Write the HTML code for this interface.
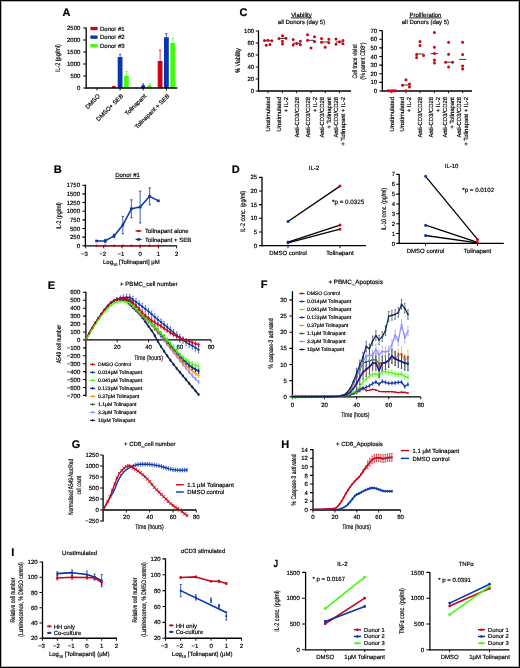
<!DOCTYPE html>
<html><head><meta charset="utf-8"><style>
html,body{margin:0;padding:0;background:#fff;width:520px;height:668px;overflow:hidden}
svg{display:block;will-change:transform;font-family:"Liberation Sans",sans-serif;font-size:6px}
text{stroke:#000;stroke-width:0.18px;text-rendering:geometricPrecision}
</style></head><body>
<svg width="520" height="668" viewBox="0 0 520 668">
<rect x="0" y="0" width="520" height="668" fill="#fff"/>
<text x="62.6" y="15.8" font-size="11" font-weight="bold">A</text>
<line x1="86.2" y1="27.4" x2="86.2" y2="88.6" stroke="#000" stroke-width="1.3" />
<path d="M83.2 88H86.2M83.2 76H86.2M83.2 64H86.2M83.2 52H86.2M83.2 40H86.2M83.2 28H86.2" fill="none" stroke="#000" stroke-width="1.1" />
<text x="80.4" y="90.1" text-anchor="end">0</text>
<text x="80.4" y="78.1" text-anchor="end">500</text>
<text x="80.4" y="66.1" text-anchor="end">1000</text>
<text x="80.4" y="54.1" text-anchor="end">1500</text>
<text x="80.4" y="42.1" text-anchor="end">2000</text>
<text x="80.4" y="30.1" text-anchor="end">2500</text>
<text transform="translate(59.9 58.2) rotate(-90)" font-size="6.6" text-anchor="middle" textLength="28.2" lengthAdjust="spacingAndGlyphs">IL-2 (pg/ml)</text>
<path d="M111.5,88 A2.3,2.2 0 0 1 116.1,88 Z" fill="#cc0418"/>
<line x1="120.1" y1="54.4" x2="120.1" y2="57.04" stroke="#0834ac" stroke-width="0.7" />
<line x1="119.1" y1="54.4" x2="121.1" y2="54.4" stroke="#0834ac" stroke-width="0.9" />
<rect x="117.7" y="57.04" width="4.8" height="30.96" fill="#0834ac"/>
<line x1="126.4" y1="71.44" x2="126.4" y2="75.76" stroke="#42fc0a" stroke-width="0.7" />
<line x1="125.4" y1="71.44" x2="127.4" y2="71.44" stroke="#42fc0a" stroke-width="0.9" />
<rect x="124" y="75.76" width="4.8" height="12.24" fill="#42fc0a"/>
<line x1="143.2" y1="83.92" x2="143.2" y2="84.64" stroke="#0834ac" stroke-width="0.7" />
<line x1="142.2" y1="83.92" x2="144.2" y2="83.92" stroke="#0834ac" stroke-width="0.9" />
<path d="M140.9,88 A2.3,3.36 0 0 1 145.5,88 Z" fill="#0834ac"/>
<line x1="149.5" y1="83.92" x2="149.5" y2="84.4" stroke="#42fc0a" stroke-width="0.7" />
<line x1="148.5" y1="83.92" x2="150.5" y2="83.92" stroke="#42fc0a" stroke-width="0.9" />
<path d="M147.2,88 A2.3,3.6 0 0 1 151.8,88 Z" fill="#42fc0a"/>
<line x1="160.1" y1="50.2" x2="160.1" y2="61" stroke="#cc0418" stroke-width="0.7" />
<line x1="159.1" y1="50.2" x2="161.1" y2="50.2" stroke="#cc0418" stroke-width="0.9" />
<rect x="157.7" y="61" width="4.8" height="27" fill="#cc0418"/>
<line x1="166.4" y1="33.64" x2="166.4" y2="37.24" stroke="#0834ac" stroke-width="0.7" />
<line x1="165.4" y1="33.64" x2="167.4" y2="33.64" stroke="#0834ac" stroke-width="0.9" />
<rect x="164" y="37.24" width="4.8" height="50.76" fill="#0834ac"/>
<line x1="172.7" y1="38.32" x2="172.7" y2="43" stroke="#42fc0a" stroke-width="0.7" />
<line x1="171.7" y1="38.32" x2="173.7" y2="38.32" stroke="#42fc0a" stroke-width="0.9" />
<rect x="170.3" y="43" width="4.8" height="45" fill="#42fc0a"/>
<line x1="85.6" y1="88" x2="177.4" y2="88" stroke="#000" stroke-width="1.3" />
<path d="M97 88V90.5M120.1 88V90.5M143.2 88V90.5M166.4 88V90.5" fill="none" stroke="#000" stroke-width="0.9" />
<rect x="90.4" y="26.9" width="7.2" height="3.3" fill="#cc0418"/>
<text x="100" y="30.6" >Donor #1</text>
<rect x="90.4" y="35.5" width="7.2" height="3.3" fill="#0834ac"/>
<text x="100" y="39.2" >Donor #2</text>
<rect x="90.4" y="44.1" width="7.2" height="3.3" fill="#42fc0a"/>
<text x="100" y="47.8" >Donor #3</text>
<text transform="translate(100.4 96.5) rotate(-45)" text-anchor="end">DMSO</text>
<text transform="translate(123.5 96.5) rotate(-45)" text-anchor="end">DMSO+ SEB</text>
<text transform="translate(146.6 96.5) rotate(-45)" text-anchor="end">Tolinapant</text>
<text transform="translate(169.8 96.5) rotate(-45)" text-anchor="end">Tolinapant + SEB</text>
<text x="53.8" y="173" font-size="11" font-weight="bold">B</text>
<text x="127.5" y="177" text-anchor="middle" text-decoration="underline">Donor #1</text>
<line x1="85.4" y1="184.7" x2="85.4" y2="246.4" stroke="#000" stroke-width="1.3" />
<path d="M82.4 245.8H85.4M82.4 237.15H85.4M82.4 228.5H85.4M82.4 219.85H85.4M82.4 211.2H85.4M82.4 202.55H85.4M82.4 193.9H85.4M82.4 185.25H85.4" fill="none" stroke="#000" stroke-width="1.1" />
<text x="80" y="247.9" text-anchor="end">0</text>
<text x="80" y="239.25" text-anchor="end">250</text>
<text x="80" y="230.6" text-anchor="end">500</text>
<text x="80" y="221.95" text-anchor="end">750</text>
<text x="80" y="213.3" text-anchor="end">1000</text>
<text x="80" y="204.65" text-anchor="end">1250</text>
<text x="80" y="196" text-anchor="end">1500</text>
<text x="80" y="187.35" text-anchor="end">1750</text>
<line x1="84.8" y1="245.8" x2="176.9" y2="245.8" stroke="#000" stroke-width="1.3" />
<path d="M85.4 245.8V248.3M103.65 245.8V248.3M121.9 245.8V248.3M140.15 245.8V248.3M158.4 245.8V248.3M176.65 245.8V248.3" fill="none" stroke="#000" stroke-width="0.9" />
<text x="84.4" y="255.6" text-anchor="middle">−3</text>
<text x="102.65" y="255.6" text-anchor="middle">−2</text>
<text x="120.9" y="255.6" text-anchor="middle">−1</text>
<text x="140.15" y="255.6" text-anchor="middle">0</text>
<text x="158.4" y="255.6" text-anchor="middle">1</text>
<text x="176.65" y="255.6" text-anchor="middle">2</text>
<text x="103" y="264.4" >Log<tspan font-size="3.8" dy="1.2">10</tspan><tspan dy="-1.2"> [Tolinapant] µM</tspan></text>
<text transform="translate(60.6 216) rotate(-90)" font-size="6.6" text-anchor="middle" textLength="27.2" lengthAdjust="spacingAndGlyphs">IL-2 (pg/ml)</text>
<polyline points="96.53,245.8 105.29,245.8 114.05,245.8 122.81,245.8 131.39,245.8 140.15,245.8 149.64,245.8 158.4,245.8" fill="none" stroke="#cc0418" stroke-width="1.1" stroke-linejoin="round" stroke-linecap="round" />
<path d="M96.53 245.8h0M105.29 245.8h0M114.05 245.8h0M122.81 245.8h0M131.39 245.8h0M140.15 245.8h0M149.64 245.8h0M158.4 245.8h0" stroke="#cc0418" stroke-width="2.6" stroke-linecap="round" fill="none"/>
<path d="M105.29 242.69V239.23M104.09 242.69h2.4M104.09 239.23h2.4M114.05 237.67V234.21M112.85 237.67h2.4M112.85 234.21h2.4M122.81 233.69V216.39M121.61 233.69h2.4M121.61 216.39h2.4M131.39 217.77V199.78M130.19 217.77h2.4M130.19 199.78h2.4M140.15 222.96V191.13M138.95 222.96h2.4M138.95 191.13h2.4M149.64 204.8V187.85M148.44 204.8h2.4M148.44 187.85h2.4" fill="none" stroke="#0834ac" stroke-width="0.8" />
<polyline points="96.53,240.96 105.29,240.96 114.05,235.94 122.81,225.04 131.39,208.78 140.15,207.05 149.64,196.32 158.4,200.82" fill="none" stroke="#0834ac" stroke-width="1.5" stroke-linejoin="round" stroke-linecap="round" />
<rect x="95.23" y="239.66" width="2.6" height="2.6" fill="#0834ac"/>
<rect x="103.99" y="239.66" width="2.6" height="2.6" fill="#0834ac"/>
<rect x="112.75" y="234.64" width="2.6" height="2.6" fill="#0834ac"/>
<rect x="121.51" y="223.74" width="2.6" height="2.6" fill="#0834ac"/>
<rect x="130.09" y="207.48" width="2.6" height="2.6" fill="#0834ac"/>
<rect x="138.85" y="205.75" width="2.6" height="2.6" fill="#0834ac"/>
<rect x="148.34" y="195.02" width="2.6" height="2.6" fill="#0834ac"/>
<rect x="157.1" y="199.52" width="2.6" height="2.6" fill="#0834ac"/>
<line x1="135.6" y1="231" x2="141.6" y2="231" stroke="#cc0418" stroke-width="1.3" />
<circle cx="138.6" cy="231" r="1.2" fill="#cc0418"/>
<text x="145" y="233.4" >Tolinapant alone</text>
<line x1="135.6" y1="239.4" x2="141.6" y2="239.4" stroke="#0834ac" stroke-width="1.3" />
<rect x="137.3" y="238.1" width="2.6" height="2.6" fill="#0834ac"/>
<text x="145" y="241.8" >Tolinapant + SEB</text>
<text x="239.6" y="16" font-size="11" font-weight="bold">C</text>
<text x="301.5" y="16.6" text-anchor="middle" text-decoration="underline">Viability</text>
<text x="301.5" y="24.4" text-anchor="middle">all Donors (day 5)</text>
<line x1="258.5" y1="30.6" x2="258.5" y2="91.6" stroke="#000" stroke-width="1.3" />
<path d="M255.7 91H258.5M255.7 79H258.5M255.7 67H258.5M255.7 55H258.5M255.7 43H258.5M255.7 31H258.5" fill="none" stroke="#000" stroke-width="1.1" />
<text x="254.1" y="93.1" text-anchor="end">0</text>
<text x="254.1" y="81.1" text-anchor="end">20</text>
<text x="254.1" y="69.1" text-anchor="end">40</text>
<text x="254.1" y="57.1" text-anchor="end">60</text>
<text x="254.1" y="45.1" text-anchor="end">80</text>
<text x="254.1" y="33.1" text-anchor="end">100</text>
<text transform="translate(239.8 60.5) rotate(-90)" font-size="6.6" text-anchor="middle" textLength="24.5" lengthAdjust="spacingAndGlyphs">% Viability</text>
<line x1="258" y1="91" x2="351" y2="91" stroke="#000" stroke-width="1.3" />
<path d="M268 91V93.2M282.3 91V93.2M296.6 91V93.2M310.9 91V93.2M325.2 91V93.2M339.5 91V93.2" fill="none" stroke="#000" stroke-width="0.9" />
<line x1="264.4" y1="40.7" x2="271.6" y2="40.7" stroke="#222" stroke-width="0.9" />
<path d="M264.5 40.5h0M268 40.3h0M271.8 40.7h0M266.3 45.3h0M270 44.5h0" stroke="#cc0418" stroke-width="3" stroke-linecap="round" fill="none"/>
<line x1="278.7" y1="38.5" x2="285.9" y2="38.5" stroke="#222" stroke-width="0.9" />
<path d="M279 38.5h0M282.5 35.8h0M286 38.3h0M282.5 41.2h0M282.5 44h0" stroke="#cc0418" stroke-width="3" stroke-linecap="round" fill="none"/>
<line x1="293" y1="43.3" x2="300.2" y2="43.3" stroke="#222" stroke-width="0.9" />
<path d="M293.2 39.5h0M293.2 45h0M296.8 43.5h0M300.3 41.2h0M300.3 44.7h0" stroke="#cc0418" stroke-width="3" stroke-linecap="round" fill="none"/>
<line x1="307.3" y1="40.3" x2="314.5" y2="40.3" stroke="#222" stroke-width="0.9" />
<path d="M307.5 34.8h0M307.5 40.3h0M311 48h0M314.5 36.8h0M314.5 41.5h0" stroke="#cc0418" stroke-width="3" stroke-linecap="round" fill="none"/>
<line x1="321.6" y1="42" x2="328.8" y2="42" stroke="#222" stroke-width="0.9" />
<path d="M321.5 38.5h0M321.5 42.2h0M325.2 47.3h0M328.8 39.2h0M328.8 42.7h0" stroke="#cc0418" stroke-width="3" stroke-linecap="round" fill="none"/>
<line x1="335.9" y1="42" x2="343.1" y2="42" stroke="#222" stroke-width="0.9" />
<path d="M336 39h0M336 44.3h0M339.5 41.8h0M343 40.5h0M343 43.8h0" stroke="#cc0418" stroke-width="3" stroke-linecap="round" fill="none"/>
<text x="425.4" y="16.6" text-anchor="middle" text-decoration="underline">Proliferation</text>
<text x="425.4" y="24.2" text-anchor="middle">all Donors (day 5)</text>
<line x1="382.3" y1="30.4" x2="382.3" y2="91.6" stroke="#000" stroke-width="1.3" />
<path d="M379.3 91H382.3M379.3 82.37H382.3M379.3 73.74H382.3M379.3 65.11H382.3M379.3 56.48H382.3M379.3 47.85H382.3M379.3 39.22H382.3M379.3 30.59H382.3" fill="none" stroke="#000" stroke-width="1.1" />
<text x="377.1" y="93.1" text-anchor="end">0</text>
<text x="377.1" y="84.47" text-anchor="end">10</text>
<text x="377.1" y="75.84" text-anchor="end">20</text>
<text x="377.1" y="67.21" text-anchor="end">30</text>
<text x="377.1" y="58.58" text-anchor="end">40</text>
<text x="377.1" y="49.95" text-anchor="end">50</text>
<text x="377.1" y="41.32" text-anchor="end">60</text>
<text x="377.1" y="32.69" text-anchor="end">70</text>
<text transform="translate(356.7 61.4) rotate(-90)" font-size="6.6" text-anchor="middle" textLength="34" lengthAdjust="spacingAndGlyphs">Cell trace violet</text>
<text transform="translate(365 61) rotate(-90)" font-size="6.6" text-anchor="middle" textLength="37" lengthAdjust="spacingAndGlyphs">(% parent CD8<tspan font-size="3.8" dy="-2">+</tspan><tspan dy="2">)</tspan></text>
<line x1="381.8" y1="91" x2="472" y2="91" stroke="#000" stroke-width="1.3" />
<path d="M391.6 91V93.2M405.8 91V93.2M420 91V93.2M434.3 91V93.2M448.5 91V93.2M462.7 91V93.2" fill="none" stroke="#000" stroke-width="0.9" />
<line x1="388" y1="91" x2="395.2" y2="91" stroke="#222" stroke-width="0.9" />
<path d="M388.2 90.8h0M390.2 90.8h0M392.2 90.8h0M394 90.8h0M395.6 90.8h0" stroke="#cc0418" stroke-width="3" stroke-linecap="round" fill="none"/>
<line x1="402.2" y1="85" x2="409.4" y2="85" stroke="#222" stroke-width="0.9" />
<path d="M406 79.8h0M402.5 85.3h0M409.5 84h0M409.5 87h0M406 90.8h0" stroke="#cc0418" stroke-width="3" stroke-linecap="round" fill="none"/>
<line x1="416.4" y1="54" x2="423.6" y2="54" stroke="#222" stroke-width="0.9" />
<path d="M420 41.6h0M420 45.6h0M416.6 54.6h0M416.6 57.6h0M423.6 55.6h0" stroke="#cc0418" stroke-width="3" stroke-linecap="round" fill="none"/>
<line x1="430.7" y1="53.6" x2="437.9" y2="53.6" stroke="#222" stroke-width="0.9" />
<path d="M434.4 32.6h0M434.4 47.2h0M434.4 53.6h0M434.4 60h0M434.4 63h0" stroke="#cc0418" stroke-width="3" stroke-linecap="round" fill="none"/>
<line x1="444.9" y1="62.2" x2="452.1" y2="62.2" stroke="#222" stroke-width="0.9" />
<path d="M448.6 42.2h0M448.6 54.2h0M445.6 62.2h0M452.6 62.2h0M448.6 67h0" stroke="#cc0418" stroke-width="3" stroke-linecap="round" fill="none"/>
<line x1="459.1" y1="59.4" x2="466.3" y2="59.4" stroke="#222" stroke-width="0.9" />
<path d="M462.6 42.2h0M462.6 54.6h0M462.6 66h0M462.6 69h0M462.6 69h0" stroke="#cc0418" stroke-width="3" stroke-linecap="round" fill="none"/>
<text transform="translate(270.1 97) rotate(-90)" font-size="5.9" text-anchor="end">Unstimulated</text>
<text transform="translate(280.9 97) rotate(-90)" font-size="5.9" text-anchor="end">Unstimulated</text>
<text transform="translate(287.9 97) rotate(-90)" font-size="5.9" text-anchor="end">+ IL-2</text>
<text transform="translate(298.7 97) rotate(-90)" font-size="5.9" text-anchor="end">Anti-CD3/CD28</text>
<text transform="translate(309.5 97) rotate(-90)" font-size="5.9" text-anchor="end">Anti-CD3/CD28</text>
<text transform="translate(316.5 97) rotate(-90)" font-size="5.9" text-anchor="end">+ IL-2</text>
<text transform="translate(323.8 97) rotate(-90)" font-size="5.9" text-anchor="end">Anti-CD3/CD28</text>
<text transform="translate(330.8 97) rotate(-90)" font-size="5.9" text-anchor="end">+ Tolinapant</text>
<text transform="translate(338.1 97) rotate(-90)" font-size="5.9" text-anchor="end">Anti-CD3/CD28</text>
<text transform="translate(345.1 97) rotate(-90)" font-size="5.9" text-anchor="end">+ Tolinapant + IL-2</text>
<text transform="translate(393.7 97) rotate(-90)" font-size="5.9" text-anchor="end">Unstimulated</text>
<text transform="translate(404.4 97) rotate(-90)" font-size="5.9" text-anchor="end">Unstimulated</text>
<text transform="translate(411.4 97) rotate(-90)" font-size="5.9" text-anchor="end">+ IL-2</text>
<text transform="translate(422.1 97) rotate(-90)" font-size="5.9" text-anchor="end">Anti-CD3/CD28</text>
<text transform="translate(432.9 97) rotate(-90)" font-size="5.9" text-anchor="end">Anti-CD3/CD28</text>
<text transform="translate(439.9 97) rotate(-90)" font-size="5.9" text-anchor="end">+ IL-2</text>
<text transform="translate(447.1 97) rotate(-90)" font-size="5.9" text-anchor="end">Anti-CD3/CD28</text>
<text transform="translate(454.1 97) rotate(-90)" font-size="5.9" text-anchor="end">+ Tolinapant</text>
<text transform="translate(461.3 97) rotate(-90)" font-size="5.9" text-anchor="end">Anti-CD3/CD28</text>
<text transform="translate(468.3 97) rotate(-90)" font-size="5.9" text-anchor="end">+ Tolinapant + IL-2</text>
<text x="231.8" y="173" font-size="11" font-weight="bold">D</text>
<text x="314" y="170.4" text-anchor="middle">IL-2</text>
<line x1="262" y1="177" x2="262" y2="246.2" stroke="#000" stroke-width="1.3" />
<path d="M259 245.6H262M259 231.95H262M259 218.3H262M259 204.65H262M259 191H262M259 177.35H262" fill="none" stroke="#000" stroke-width="1.1" />
<text x="257.2" y="247.7" text-anchor="end">0</text>
<text x="257.2" y="234.05" text-anchor="end">5</text>
<text x="257.2" y="220.4" text-anchor="end">10</text>
<text x="257.2" y="206.75" text-anchor="end">15</text>
<text x="257.2" y="193.1" text-anchor="end">20</text>
<text x="257.2" y="179.45" text-anchor="end">25</text>
<line x1="261.4" y1="245.6" x2="366" y2="245.6" stroke="#000" stroke-width="1.3" />
<path d="M288 245.6V248.1M340 245.6V248.1" fill="none" stroke="#000" stroke-width="0.9" />
<text x="288" y="255" text-anchor="middle">DMSO control</text>
<text x="340" y="255" text-anchor="middle">Tolinapant</text>
<text x="332" y="204" font-size="6.25">*p = 0.0325</text>
<text transform="translate(244.9 211.5) rotate(-90)" font-size="6.6" text-anchor="middle" textLength="41.5" lengthAdjust="spacingAndGlyphs">IL-2 conc. (pg/ml)</text>
<line x1="288" y1="221.58" x2="340" y2="186.09" stroke="#000" stroke-width="1.3" />
<line x1="288" y1="242.05" x2="340" y2="225.12" stroke="#000" stroke-width="1.3" />
<line x1="288" y1="242.87" x2="340" y2="229.22" stroke="#000" stroke-width="1.3" />
<path d="M288 221.58h0M288 242.05h0M288 242.87h0" stroke="#0834ac" stroke-width="3" stroke-linecap="round" fill="none"/>
<path d="M340 186.09h0M340 225.12h0M340 229.22h0" stroke="#cc0418" stroke-width="3" stroke-linecap="round" fill="none"/>
<text x="451.6" y="168" text-anchor="middle">IL-10</text>
<line x1="399.2" y1="174" x2="399.2" y2="244" stroke="#000" stroke-width="1.3" />
<path d="M396.2 243.4H399.2M396.2 233.54H399.2M396.2 223.68H399.2M396.2 213.82H399.2M396.2 203.96H399.2M396.2 194.1H399.2M396.2 184.24H399.2M396.2 174.38H399.2" fill="none" stroke="#000" stroke-width="1.1" />
<text x="395" y="245.5" text-anchor="end">0</text>
<text x="395" y="235.64" text-anchor="end">1</text>
<text x="395" y="225.78" text-anchor="end">2</text>
<text x="395" y="215.92" text-anchor="end">3</text>
<text x="395" y="206.06" text-anchor="end">4</text>
<text x="395" y="196.2" text-anchor="end">5</text>
<text x="395" y="186.34" text-anchor="end">6</text>
<text x="395" y="176.48" text-anchor="end">7</text>
<line x1="398.6" y1="243.4" x2="503.8" y2="243.4" stroke="#000" stroke-width="1.3" />
<path d="M425.6 243.4V245.9M477.5 243.4V245.9" fill="none" stroke="#000" stroke-width="0.9" />
<text x="425.6" y="253" text-anchor="middle">DMSO control</text>
<text x="477.5" y="253" text-anchor="middle">Tolinapant</text>
<text x="462.3" y="192" font-size="6.2">*p = 0.0102</text>
<text transform="translate(386.2 209.2) rotate(-90)" font-size="6.6" text-anchor="middle" textLength="42.5" lengthAdjust="spacingAndGlyphs">IL-10 conc. (pg/ml)</text>
<line x1="425.6" y1="176.35" x2="477.5" y2="239.46" stroke="#000" stroke-width="1.3" />
<line x1="425.6" y1="225.16" x2="477.5" y2="242.41" stroke="#000" stroke-width="1.3" />
<line x1="425.6" y1="235.51" x2="477.5" y2="242.91" stroke="#000" stroke-width="1.3" />
<path d="M425.6 176.35h0M425.6 225.16h0M425.6 235.51h0" stroke="#0834ac" stroke-width="3" stroke-linecap="round" fill="none"/>
<path d="M477.5 239.46h0M477.5 242.41h0" stroke="#cc0418" stroke-width="3" stroke-linecap="round" fill="none"/>
<text x="47.8" y="289" font-size="11" font-weight="bold">E</text>
<text x="120" y="286.1" font-size="6.1">+ PBMC_cell number</text>
<text transform="translate(60.9 344) rotate(-90)" font-size="6.6" text-anchor="middle" textLength="38.5" lengthAdjust="spacingAndGlyphs">A549 cell number</text>
<line x1="85.9" y1="291.7" x2="85.9" y2="396.5" stroke="#000" stroke-width="1.3" />
<path d="M83.1 395.41H85.9M83.1 387.48H85.9M83.1 379.55H85.9M83.1 371.62H85.9M83.1 363.69H85.9M83.1 355.76H85.9M83.1 347.83H85.9M83.1 339.9H85.9M83.1 331.97H85.9M83.1 324.04H85.9M83.1 316.11H85.9M83.1 308.18H85.9M83.1 300.25H85.9M83.1 292.32H85.9" fill="none" stroke="#000" stroke-width="1.1" />
<text x="80.3" y="397.51" text-anchor="end">−700</text>
<text x="80.3" y="389.58" text-anchor="end">−600</text>
<text x="80.3" y="381.65" text-anchor="end">−500</text>
<text x="80.3" y="373.72" text-anchor="end">−400</text>
<text x="80.3" y="365.79" text-anchor="end">−300</text>
<text x="80.3" y="357.86" text-anchor="end">−200</text>
<text x="80.3" y="349.93" text-anchor="end">−100</text>
<text x="80.3" y="342" text-anchor="end">0</text>
<text x="80.3" y="334.07" text-anchor="end">100</text>
<text x="80.3" y="326.14" text-anchor="end">200</text>
<text x="80.3" y="318.21" text-anchor="end">300</text>
<text x="80.3" y="310.28" text-anchor="end">400</text>
<text x="80.3" y="302.35" text-anchor="end">500</text>
<text x="80.3" y="294.42" text-anchor="end">600</text>
<line x1="85.3" y1="339.9" x2="211" y2="339.9" stroke="#000" stroke-width="1.3" />
<path d="M117.2 339.9V342.4M148.5 339.9V342.4M179.8 339.9V342.4M211.1 339.9V342.4" fill="none" stroke="#000" stroke-width="0.9" />
<text x="117.2" y="349.2" text-anchor="middle">20</text>
<text x="148.5" y="349.2" text-anchor="middle">40</text>
<text x="179.8" y="349.2" text-anchor="middle">60</text>
<text x="211.1" y="349.2" text-anchor="middle">80</text>
<path d="M120.33 298.98V300.25M119.63 298.98h1.4M119.63 300.25h1.4M123.46 299.46V301.04M122.76 299.46h1.4M122.76 301.04h1.4M126.59 300.72V302.62M125.89 300.72h1.4M125.89 302.62h1.4M129.72 303.43V305.33M129.02 303.43h1.4M129.02 305.33h1.4M132.85 306.68V308.58M132.15 306.68h1.4M132.15 308.58h1.4M135.98 309.72V311.62M135.28 309.72h1.4M135.28 311.62h1.4M139.11 312.89V314.79M138.41 312.89h1.4M138.41 314.79h1.4M142.24 316.66V318.57M141.54 316.66h1.4M141.54 318.57h1.4M145.37 320.84V322.75M144.67 320.84h1.4M144.67 322.75h1.4M148.5 325.31V327.21M147.8 325.31h1.4M147.8 327.21h1.4M151.63 329.64V331.54M150.93 329.64h1.4M150.93 331.54h1.4M154.76 334.7V336.6M154.06 334.7h1.4M154.06 336.6h1.4M157.89 340.37V342.27M157.19 340.37h1.4M157.19 342.27h1.4M161.02 345.64V347.54M160.32 345.64h1.4M160.32 347.54h1.4M164.15 350.33V352.23M163.45 350.33h1.4M163.45 352.23h1.4M167.28 354.87V356.77M166.58 354.87h1.4M166.58 356.77h1.4M170.41 359.29V361.2M169.71 359.29h1.4M169.71 361.2h1.4M173.54 363.44V365.34M172.84 363.44h1.4M172.84 365.34h1.4M176.67 367.37V369.28M175.97 367.37h1.4M175.97 369.28h1.4M179.8 371.18V373.09M179.1 371.18h1.4M179.1 373.09h1.4M182.93 374.96V376.86M182.23 374.96h1.4M182.23 376.86h1.4M186.06 378.74V380.65M185.36 378.74h1.4M185.36 380.65h1.4M189.19 382.45V384.35M188.49 382.45h1.4M188.49 384.35h1.4M192.32 386.13V388.04M191.62 386.13h1.4M191.62 388.04h1.4M195.45 389.89V391.79M194.75 389.89h1.4M194.75 391.79h1.4M198.58 393.67V395.57M197.88 393.67h1.4M197.88 395.57h1.4" fill="none" stroke="#0f2350" stroke-width="0.6" />
<polyline points="85.9,339.9 86.68,338.36 87.47,336.8 88.25,335.23 89.03,333.69 89.81,332.2 90.59,330.78 91.38,329.42 92.16,328.09 92.94,326.78 93.73,325.5 94.51,324.25 95.29,323.02 96.07,321.81 96.86,320.63 97.64,319.47 98.42,318.33 99.2,317.22 99.98,316.12 100.77,315.04 101.55,313.98 102.33,312.93 103.12,311.9 103.9,310.88 104.68,309.86 105.46,308.84 106.25,307.83 107.03,306.85 107.81,305.91 108.59,305.01 109.38,304.19 110.16,303.44 110.94,302.76 111.72,302.16 112.51,301.61 113.29,301.13 114.07,300.71 114.85,300.34 115.64,300.01 116.42,299.77 117.2,299.63 117.98,299.57 118.77,299.56 119.55,299.59 120.33,299.62 121.11,299.67 121.9,299.8 122.68,299.99 123.46,300.25 124.24,300.54 125.03,300.85 125.81,301.22 126.59,301.67 127.37,302.23 128.16,302.9 128.94,303.62 129.72,304.38 130.5,305.18 131.28,305.99 132.07,306.81 132.85,307.63 133.63,308.42 134.42,309.19 135.2,309.94 135.98,310.67 136.76,311.42 137.55,312.18 138.33,312.99 139.11,313.84 139.89,314.74 140.68,315.67 141.46,316.63 142.24,317.61 143.02,318.62 143.81,319.65 144.59,320.7 145.37,321.79 146.15,322.9 146.94,324.03 147.72,325.15 148.5,326.26 149.28,327.35 150.06,328.42 150.85,329.49 151.63,330.59 152.41,331.72 153.19,332.92 153.98,334.23 154.76,335.65 155.54,337.11 156.32,338.55 157.11,339.94 157.89,341.32 158.67,342.7 159.45,344.04 160.24,345.34 161.02,346.59 161.8,347.79 162.59,348.97 163.37,350.13 164.15,351.28 164.93,352.42 165.72,353.55 166.5,354.69 167.28,355.82 168.06,356.94 168.84,358.06 169.63,359.16 170.41,360.24 171.19,361.31 171.98,362.36 172.76,363.38 173.54,364.39 174.32,365.38 175.11,366.37 175.89,367.35 176.67,368.33 177.45,369.29 178.24,370.25 179.02,371.19 179.8,372.13 180.58,373.08 181.37,374.02 182.15,374.96 182.93,375.91 183.71,376.86 184.5,377.81 185.28,378.75 186.06,379.7 186.84,380.63 187.62,381.56 188.41,382.48 189.19,383.4 189.97,384.32 190.75,385.23 191.54,386.16 192.32,387.08 193.1,388.02 193.88,388.96 194.67,389.9 195.45,390.84 196.23,391.79 197.01,392.73 197.8,393.67 198.58,394.62" fill="none" stroke="#0f2350" stroke-width="1.45" stroke-linejoin="round" stroke-linecap="round" />
<path d="M85.9 339.9h0M89.03 333.69h0M92.16 328.09h0M95.29 323.02h0M98.42 318.33h0M101.55 313.98h0M104.68 309.86h0M107.81 305.91h0M110.94 302.76h0M114.07 300.71h0M117.2 299.63h0M120.33 299.62h0M123.46 300.25h0M126.59 301.67h0M129.72 304.38h0M132.85 307.63h0M135.98 310.67h0M139.11 313.84h0M142.24 317.61h0M145.37 321.79h0M148.5 326.26h0M151.63 330.59h0M154.76 335.65h0M157.89 341.32h0M161.02 346.59h0M164.15 351.28h0M167.28 355.82h0M170.41 360.24h0M173.54 364.39h0M176.67 368.33h0M179.8 372.13h0M182.93 375.91h0M186.06 379.7h0M189.19 383.4h0M192.32 387.08h0M195.45 390.84h0M198.58 394.62h0" stroke="#0f2350" stroke-width="2.3" stroke-linecap="round" fill="none"/>
<path d="M117.2 298.86V300.44M116.5 298.86h1.4M116.5 300.44h1.4M120.33 298.56V300.67M119.63 298.56h1.4M119.63 300.67h1.4M123.46 298.25V300.9M122.76 298.25h1.4M122.76 300.9h1.4M126.59 298.84V302.01M125.89 298.84h1.4M125.89 302.01h1.4M129.72 300.67V303.84M129.02 300.67h1.4M129.02 303.84h1.4M132.85 304.02V307.19M132.15 304.02h1.4M132.15 307.19h1.4M135.98 307.78V310.95M135.28 307.78h1.4M135.28 310.95h1.4M139.11 311.29V314.46M138.41 311.29h1.4M138.41 314.46h1.4M142.24 314.45V317.62M141.54 314.45h1.4M141.54 317.62h1.4M145.37 317.37V320.54M144.67 317.37h1.4M144.67 320.54h1.4M148.5 320.11V323.28M147.8 320.11h1.4M147.8 323.28h1.4M151.63 323.48V326.65M150.93 323.48h1.4M150.93 326.65h1.4M154.76 327.43V330.6M154.06 327.43h1.4M154.06 330.6h1.4M157.89 331.16V334.33M157.19 331.16h1.4M157.19 334.33h1.4M161.02 334.93V338.1M160.32 334.93h1.4M160.32 338.1h1.4M164.15 338.89V342.07M163.45 338.89h1.4M163.45 342.07h1.4M167.28 342.87V346.05M166.58 342.87h1.4M166.58 346.05h1.4M170.41 346.84V350.01M169.71 346.84h1.4M169.71 350.01h1.4M173.54 350.79V353.96M172.84 350.79h1.4M172.84 353.96h1.4M176.67 354.77V357.94M175.97 354.77h1.4M175.97 357.94h1.4M179.8 358.9V362.07M179.1 358.9h1.4M179.1 362.07h1.4M182.93 362.84V366.02M182.23 362.84h1.4M182.23 366.02h1.4M186.06 366.54V369.72M185.36 366.54h1.4M185.36 369.72h1.4M189.19 370.32V373.49M188.49 370.32h1.4M188.49 373.49h1.4M192.32 374V377.17M191.62 374h1.4M191.62 377.17h1.4M195.45 377.24V380.41M194.75 377.24h1.4M194.75 380.41h1.4M198.58 380.34V383.51M197.88 380.34h1.4M197.88 383.51h1.4" fill="none" stroke="#8c8cff" stroke-width="0.6" />
<polyline points="85.9,339.9 86.68,338.36 87.47,336.8 88.25,335.23 89.03,333.69 89.81,332.2 90.59,330.78 91.38,329.42 92.16,328.09 92.94,326.78 93.73,325.5 94.51,324.25 95.29,323.02 96.07,321.81 96.86,320.63 97.64,319.47 98.42,318.33 99.2,317.22 99.98,316.12 100.77,315.04 101.55,313.98 102.33,312.93 103.12,311.9 103.9,310.88 104.68,309.86 105.46,308.84 106.25,307.83 107.03,306.85 107.81,305.91 108.59,305.01 109.38,304.19 110.16,303.44 110.94,302.76 111.72,302.16 112.51,301.61 113.29,301.13 114.07,300.71 114.85,300.34 115.64,300.01 116.42,299.78 117.2,299.65 117.98,299.6 118.77,299.6 119.55,299.61 120.33,299.62 121.11,299.59 121.9,299.56 122.68,299.55 123.46,299.57 124.24,299.67 125.03,299.85 125.81,300.12 126.59,300.43 127.37,300.79 128.16,301.21 128.94,301.7 129.72,302.26 130.5,302.9 131.28,303.7 132.07,304.62 132.85,305.61 133.63,306.6 134.42,307.55 135.2,308.45 135.98,309.36 136.76,310.27 137.55,311.17 138.33,312.04 139.11,312.87 139.89,313.69 140.68,314.49 141.46,315.27 142.24,316.03 143.02,316.79 143.81,317.54 144.59,318.26 145.37,318.95 146.15,319.63 146.94,320.3 147.72,320.98 148.5,321.7 149.28,322.45 150.06,323.26 150.85,324.13 151.63,325.07 152.41,326.04 153.19,327.04 153.98,328.03 154.76,329.02 155.54,329.97 156.32,330.9 157.11,331.83 157.89,332.75 158.67,333.67 159.45,334.61 160.24,335.55 161.02,336.52 161.8,337.49 162.59,338.48 163.37,339.48 164.15,340.48 164.93,341.48 165.72,342.48 166.5,343.47 167.28,344.46 168.06,345.45 168.84,346.44 169.63,347.43 170.41,348.42 171.19,349.42 171.98,350.41 172.76,351.39 173.54,352.38 174.32,353.37 175.11,354.36 175.89,355.35 176.67,356.36 177.45,357.38 178.24,358.41 179.02,359.45 179.8,360.48 180.58,361.5 181.37,362.5 182.15,363.48 182.93,364.43 183.71,365.37 184.5,366.29 185.28,367.21 186.06,368.13 186.84,369.05 187.62,369.99 188.41,370.95 189.19,371.9 189.97,372.86 190.75,373.79 191.54,374.71 192.32,375.58 193.1,376.43 193.88,377.24 194.67,378.04 195.45,378.82 196.23,379.6 197.01,380.37 197.8,381.14 198.58,381.93" fill="none" stroke="#8c8cff" stroke-width="1.2" stroke-linejoin="round" stroke-linecap="round" />
<path d="M85.9 339.9h0M89.03 333.69h0M92.16 328.09h0M95.29 323.02h0M98.42 318.33h0M101.55 313.98h0M104.68 309.86h0M107.81 305.91h0M110.94 302.76h0M114.07 300.71h0M117.2 299.65h0M120.33 299.62h0M123.46 299.57h0M126.59 300.43h0M129.72 302.26h0M132.85 305.61h0M135.98 309.36h0M139.11 312.87h0M142.24 316.03h0M145.37 318.95h0M148.5 321.7h0M151.63 325.07h0M154.76 329.02h0M157.89 332.75h0M161.02 336.52h0M164.15 340.48h0M167.28 344.46h0M170.41 348.42h0M173.54 352.38h0M176.67 356.36h0M179.8 360.48h0M182.93 364.43h0M186.06 368.13h0M189.19 371.9h0M192.32 375.58h0M195.45 378.82h0M198.58 381.93h0" stroke="#8c8cff" stroke-width="1.9" stroke-linecap="round" fill="none"/>
<path d="M114.07 300.06V301.38M113.37 300.06h1.4M113.37 301.38h1.4M117.2 298.61V300.6M116.5 298.61h1.4M116.5 300.6h1.4M120.33 298.14V300.78M119.63 298.14h1.4M119.63 300.78h1.4M123.46 297.71V301.02M122.76 297.71h1.4M122.76 301.02h1.4M126.59 298.17V302.13M125.89 298.17h1.4M125.89 302.13h1.4M129.72 299.9V303.86M129.02 299.9h1.4M129.02 303.86h1.4M132.85 303.08V307.04M132.15 303.08h1.4M132.15 307.04h1.4M135.98 306.68V310.65M135.28 306.68h1.4M135.28 310.65h1.4M139.11 310.09V314.05M138.41 310.09h1.4M138.41 314.05h1.4M142.24 313.16V317.12M141.54 313.16h1.4M141.54 317.12h1.4M145.37 315.95V319.91M144.67 315.95h1.4M144.67 319.91h1.4M148.5 318.52V322.49M147.8 318.52h1.4M147.8 322.49h1.4M151.63 321.71V325.68M150.93 321.71h1.4M150.93 325.68h1.4M154.76 325.47V329.44M154.06 325.47h1.4M154.06 329.44h1.4M157.89 329.1V333.07M157.19 329.1h1.4M157.19 333.07h1.4M161.02 332.65V336.61M160.32 332.65h1.4M160.32 336.61h1.4M164.15 336.01V339.98M163.45 336.01h1.4M163.45 339.98h1.4M167.28 339.56V343.52M166.58 339.56h1.4M166.58 343.52h1.4M170.41 343.32V347.29M169.71 343.32h1.4M169.71 347.29h1.4M173.54 347.06V351.02M172.84 347.06h1.4M172.84 351.02h1.4M176.67 350.79V354.76M175.97 350.79h1.4M175.97 354.76h1.4M179.8 354.65V358.61M179.1 354.65h1.4M179.1 358.61h1.4M182.93 358.06V362.03M182.23 358.06h1.4M182.23 362.03h1.4M186.06 360.91V364.87M185.36 360.91h1.4M185.36 364.87h1.4M189.19 363.52V367.48M188.49 363.52h1.4M188.49 367.48h1.4M192.32 365.83V369.8M191.62 365.83h1.4M191.62 369.8h1.4M195.45 367.72V371.69M194.75 367.72h1.4M194.75 371.69h1.4M198.58 369.48V373.44M197.88 369.48h1.4M197.88 373.44h1.4" fill="none" stroke="#1a7a1a" stroke-width="0.6" />
<polyline points="85.9,339.9 86.68,338.36 87.47,336.8 88.25,335.23 89.03,333.69 89.81,332.2 90.59,330.78 91.38,329.42 92.16,328.09 92.94,326.78 93.73,325.5 94.51,324.25 95.29,323.02 96.07,321.81 96.86,320.63 97.64,319.47 98.42,318.33 99.2,317.22 99.98,316.12 100.77,315.04 101.55,313.98 102.33,312.93 103.12,311.9 103.9,310.88 104.68,309.86 105.46,308.84 106.25,307.83 107.03,306.85 107.81,305.91 108.59,305.01 109.38,304.19 110.16,303.44 110.94,302.76 111.72,302.16 112.51,301.62 113.29,301.15 114.07,300.72 114.85,300.34 115.64,300.01 116.42,299.76 117.2,299.61 117.98,299.53 118.77,299.49 119.55,299.48 120.33,299.46 121.11,299.42 121.9,299.37 122.68,299.35 123.46,299.36 124.24,299.45 125.03,299.62 125.81,299.86 126.59,300.15 127.37,300.49 128.16,300.89 128.94,301.35 129.72,301.88 130.5,302.49 131.28,303.25 132.07,304.12 132.85,305.06 133.63,306.01 134.42,306.91 135.2,307.78 135.98,308.67 136.76,309.55 137.55,310.41 138.33,311.26 139.11,312.07 139.89,312.86 140.68,313.64 141.46,314.4 142.24,315.14 143.02,315.87 143.81,316.59 144.59,317.27 145.37,317.93 146.15,318.56 146.94,319.2 147.72,319.84 148.5,320.51 149.28,321.21 150.06,321.98 150.85,322.81 151.63,323.7 152.41,324.62 153.19,325.57 153.98,326.52 154.76,327.46 155.54,328.37 156.32,329.27 157.11,330.18 157.89,331.08 158.67,331.98 159.45,332.88 160.24,333.76 161.02,334.63 161.8,335.48 162.59,336.32 163.37,337.16 164.15,338 164.93,338.85 165.72,339.72 166.5,340.62 167.28,341.54 168.06,342.47 168.84,343.41 169.63,344.36 170.41,345.31 171.19,346.24 171.98,347.18 172.76,348.11 173.54,349.04 174.32,349.97 175.11,350.91 175.89,351.84 176.67,352.78 177.45,353.73 178.24,354.7 179.02,355.67 179.8,356.63 180.58,357.56 181.37,358.44 182.15,359.26 182.93,360.05 183.71,360.79 184.5,361.51 185.28,362.21 186.06,362.89 186.84,363.56 187.62,364.22 188.41,364.87 189.19,365.5 189.97,366.11 190.75,366.71 191.54,367.27 192.32,367.81 193.1,368.32 193.88,368.8 194.67,369.26 195.45,369.71 196.23,370.14 197.01,370.58 197.8,371.01 198.58,371.46" fill="none" stroke="#1a7a1a" stroke-width="1.2" stroke-linejoin="round" stroke-linecap="round" />
<path d="M85.9 339.9h0M89.03 333.69h0M92.16 328.09h0M95.29 323.02h0M98.42 318.33h0M101.55 313.98h0M104.68 309.86h0M107.81 305.91h0M110.94 302.76h0M114.07 300.72h0M117.2 299.61h0M120.33 299.46h0M123.46 299.36h0M126.59 300.15h0M129.72 301.88h0M132.85 305.06h0M135.98 308.67h0M139.11 312.07h0M142.24 315.14h0M145.37 317.93h0M148.5 320.51h0M151.63 323.7h0M154.76 327.46h0M157.89 331.08h0M161.02 334.63h0M164.15 338h0M167.28 341.54h0M170.41 345.31h0M173.54 349.04h0M176.67 352.78h0M179.8 356.63h0M182.93 360.05h0M186.06 362.89h0M189.19 365.5h0M192.32 367.81h0M195.45 369.71h0M198.58 371.46h0" stroke="#1a7a1a" stroke-width="1.9" stroke-linecap="round" fill="none"/>
<path d="M114.07 300.06V301.38M113.37 300.06h1.4M113.37 301.38h1.4M117.2 298.61V300.59M116.5 298.61h1.4M116.5 300.59h1.4M120.33 298.14V300.78M119.63 298.14h1.4M119.63 300.78h1.4M123.46 297.81V301.11M122.76 297.81h1.4M122.76 301.11h1.4M126.59 298.4V302.37M125.89 298.4h1.4M125.89 302.37h1.4M129.72 300.28V304.25M129.02 300.28h1.4M129.02 304.25h1.4M132.85 303.42V307.39M132.15 303.42h1.4M132.15 307.39h1.4M135.98 307.02V310.99M135.28 307.02h1.4M135.28 310.99h1.4M139.11 310.48V314.45M138.41 310.48h1.4M138.41 314.45h1.4M142.24 313.49V317.46M141.54 313.49h1.4M141.54 317.46h1.4M145.37 316.26V320.23M144.67 316.26h1.4M144.67 320.23h1.4M148.5 318.87V322.84M147.8 318.87h1.4M147.8 322.84h1.4M151.63 322.23V326.19M150.93 322.23h1.4M150.93 326.19h1.4M154.76 326.24V330.21M154.06 326.24h1.4M154.06 330.21h1.4M157.89 329.88V333.84M157.19 329.88h1.4M157.19 333.84h1.4M161.02 333.48V337.44M160.32 333.48h1.4M160.32 337.44h1.4M164.15 337.25V341.21M163.45 337.25h1.4M163.45 341.21h1.4M167.28 341.05V345.02M166.58 341.05h1.4M166.58 345.02h1.4M170.41 344.88V348.84M169.71 344.88h1.4M169.71 348.84h1.4M173.54 348.82V352.78M172.84 348.82h1.4M172.84 352.78h1.4M176.67 352.78V356.75M175.97 352.78h1.4M175.97 356.75h1.4M179.8 356.72V360.69M179.1 356.72h1.4M179.1 360.69h1.4M182.93 360.28V364.24M182.23 360.28h1.4M182.23 364.24h1.4M186.06 363.36V367.32M185.36 363.36h1.4M185.36 367.32h1.4M189.19 366.29V370.26M188.49 366.29h1.4M188.49 370.26h1.4M192.32 369V372.97M191.62 369h1.4M191.62 372.97h1.4M195.45 371.33V375.29M194.75 371.33h1.4M194.75 375.29h1.4M198.58 373.52V377.49M197.88 373.52h1.4M197.88 377.49h1.4" fill="none" stroke="#ff8a1e" stroke-width="0.6" />
<polyline points="85.9,339.9 86.68,338.36 87.47,336.8 88.25,335.23 89.03,333.69 89.81,332.2 90.59,330.78 91.38,329.42 92.16,328.09 92.94,326.78 93.73,325.5 94.51,324.25 95.29,323.02 96.07,321.81 96.86,320.63 97.64,319.47 98.42,318.33 99.2,317.22 99.98,316.12 100.77,315.04 101.55,313.98 102.33,312.93 103.12,311.9 103.9,310.88 104.68,309.86 105.46,308.84 106.25,307.83 107.03,306.85 107.81,305.91 108.59,305.01 109.38,304.19 110.16,303.44 110.94,302.76 111.72,302.16 112.51,301.62 113.29,301.15 114.07,300.72 114.85,300.34 115.64,300.01 116.42,299.76 117.2,299.6 117.98,299.52 118.77,299.48 119.55,299.47 120.33,299.46 121.11,299.43 121.9,299.41 122.68,299.41 123.46,299.46 124.24,299.57 125.03,299.77 125.81,300.05 126.59,300.38 127.37,300.77 128.16,301.21 128.94,301.71 129.72,302.27 130.5,302.89 131.28,303.64 132.07,304.49 132.85,305.41 133.63,306.33 134.42,307.23 135.2,308.11 135.98,309.01 136.76,309.91 137.55,310.79 138.33,311.65 139.11,312.47 139.89,313.25 140.68,314.01 141.46,314.75 142.24,315.48 143.02,316.19 143.81,316.9 144.59,317.59 145.37,318.25 146.15,318.88 146.94,319.52 147.72,320.17 148.5,320.86 149.28,321.59 150.06,322.38 150.85,323.26 151.63,324.21 152.41,325.2 153.19,326.22 153.98,327.24 154.76,328.23 155.54,329.17 156.32,330.08 157.11,330.98 157.89,331.86 158.67,332.74 159.45,333.63 160.24,334.54 161.02,335.46 161.8,336.39 162.59,337.33 163.37,338.28 164.15,339.23 164.93,340.19 165.72,341.14 166.5,342.09 167.28,343.04 168.06,343.99 168.84,344.94 169.63,345.9 170.41,346.86 171.19,347.83 171.98,348.81 172.76,349.8 173.54,350.8 174.32,351.8 175.11,352.79 175.89,353.79 176.67,354.77 177.45,355.75 178.24,356.74 179.02,357.73 179.8,358.7 180.58,359.65 181.37,360.56 182.15,361.43 182.93,362.26 183.71,363.06 184.5,363.83 185.28,364.59 186.06,365.34 186.84,366.08 187.62,366.82 188.41,367.55 189.19,368.28 189.97,368.98 190.75,369.68 191.54,370.34 192.32,370.99 193.1,371.6 193.88,372.19 194.67,372.75 195.45,373.31 196.23,373.85 197.01,374.4 197.8,374.95 198.58,375.51" fill="none" stroke="#ff8a1e" stroke-width="1.2" stroke-linejoin="round" stroke-linecap="round" />
<path d="M85.9 339.9h0M89.03 333.69h0M92.16 328.09h0M95.29 323.02h0M98.42 318.33h0M101.55 313.98h0M104.68 309.86h0M107.81 305.91h0M110.94 302.76h0M114.07 300.72h0M117.2 299.6h0M120.33 299.46h0M123.46 299.46h0M126.59 300.38h0M129.72 302.27h0M132.85 305.41h0M135.98 309.01h0M139.11 312.47h0M142.24 315.48h0M145.37 318.25h0M148.5 320.86h0M151.63 324.21h0M154.76 328.23h0M157.89 331.86h0M161.02 335.46h0M164.15 339.23h0M167.28 343.04h0M170.41 346.86h0M173.54 350.8h0M176.67 354.77h0M179.8 358.7h0M182.93 362.26h0M186.06 365.34h0M189.19 368.28h0M192.32 370.99h0M195.45 373.31h0M198.58 375.51h0" stroke="#ff8a1e" stroke-width="1.9" stroke-linecap="round" fill="none"/>
<path d="M114.07 299.94V301.53M113.37 299.94h1.4M113.37 301.53h1.4M117.2 298.37V300.75M116.5 298.37h1.4M116.5 300.75h1.4M120.33 297.71V300.88M119.63 297.71h1.4M119.63 300.88h1.4M123.46 297.22V301.19M122.76 297.22h1.4M122.76 301.19h1.4M126.59 297.59V302.35M125.89 297.59h1.4M125.89 302.35h1.4M129.72 299.27V304.03M129.02 299.27h1.4M129.02 304.03h1.4M132.85 302.39V307.15M132.15 302.39h1.4M132.15 307.15h1.4M135.98 305.93V310.68M135.28 305.93h1.4M135.28 310.68h1.4M139.11 309.3V314.06M138.41 309.3h1.4M138.41 314.06h1.4M142.24 312.61V317.37M141.54 312.61h1.4M141.54 317.37h1.4M145.37 315.44V320.2M144.67 315.44h1.4M144.67 320.2h1.4M148.5 317.87V322.62M147.8 317.87h1.4M147.8 322.62h1.4M151.63 320.97V325.72M150.93 320.97h1.4M150.93 325.72h1.4M154.76 324.69V329.45M154.06 324.69h1.4M154.06 329.45h1.4M157.89 328.21V332.97M157.19 328.21h1.4M157.19 332.97h1.4M161.02 331.7V336.46M160.32 331.7h1.4M160.32 336.46h1.4M164.15 335.17V339.93M163.45 335.17h1.4M163.45 339.93h1.4M167.28 338.79V343.54M166.58 338.79h1.4M166.58 343.54h1.4M170.41 342.55V347.31M169.71 342.55h1.4M169.71 347.31h1.4M173.54 346.1V350.85M172.84 346.1h1.4M172.84 350.85h1.4M176.67 349.6V354.36M175.97 349.6h1.4M175.97 354.36h1.4M179.8 353.44V358.2M179.1 353.44h1.4M179.1 358.2h1.4M182.93 356.87V361.63M182.23 356.87h1.4M182.23 361.63h1.4M186.06 359.7V364.46M185.36 359.7h1.4M185.36 364.46h1.4M189.19 362.42V367.18M188.49 362.42h1.4M188.49 367.18h1.4M192.32 364.88V369.64M191.62 364.88h1.4M191.62 369.64h1.4M195.45 366.82V371.58M194.75 366.82h1.4M194.75 371.58h1.4M198.58 368.61V373.36M197.88 368.61h1.4M197.88 373.36h1.4" fill="none" stroke="#141a9a" stroke-width="0.6" />
<polyline points="85.9,339.9 86.68,338.36 87.47,336.8 88.25,335.23 89.03,333.69 89.81,332.2 90.59,330.78 91.38,329.42 92.16,328.09 92.94,326.78 93.73,325.5 94.51,324.25 95.29,323.02 96.07,321.81 96.86,320.63 97.64,319.47 98.42,318.33 99.2,317.22 99.98,316.12 100.77,315.04 101.55,313.98 102.33,312.93 103.12,311.9 103.9,310.88 104.68,309.86 105.46,308.84 106.25,307.83 107.03,306.85 107.81,305.91 108.59,305.01 109.38,304.19 110.16,303.44 110.94,302.77 111.72,302.17 112.51,301.63 113.29,301.16 114.07,300.73 114.85,300.35 115.64,300.01 116.42,299.74 117.2,299.56 117.98,299.45 118.77,299.38 119.55,299.34 120.33,299.3 121.11,299.25 121.9,299.2 122.68,299.18 123.46,299.21 124.24,299.29 125.03,299.46 125.81,299.69 126.59,299.97 127.37,300.3 128.16,300.69 128.94,301.14 129.72,301.65 130.5,302.25 131.28,302.99 132.07,303.85 132.85,304.77 133.63,305.7 134.42,306.59 135.2,307.45 135.98,308.3 136.76,309.16 137.55,310.01 138.33,310.85 139.11,311.68 139.89,312.52 140.68,313.36 141.46,314.18 142.24,314.99 143.02,315.77 143.81,316.51 144.59,317.19 145.37,317.82 146.15,318.43 146.94,319.02 147.72,319.62 148.5,320.25 149.28,320.92 150.06,321.66 150.85,322.47 151.63,323.35 152.41,324.26 153.19,325.2 153.98,326.14 154.76,327.07 155.54,327.96 156.32,328.84 157.11,329.72 157.89,330.59 158.67,331.46 159.45,332.33 160.24,333.21 161.02,334.08 161.8,334.95 162.59,335.81 163.37,336.68 164.15,337.55 164.93,338.43 165.72,339.32 166.5,340.23 167.28,341.16 168.06,342.11 168.84,343.05 169.63,344 170.41,344.93 171.19,345.85 171.98,346.74 172.76,347.61 173.54,348.48 174.32,349.34 175.11,350.2 175.89,351.08 176.67,351.98 177.45,352.91 178.24,353.88 179.02,354.85 179.8,355.82 180.58,356.76 181.37,357.64 182.15,358.47 182.93,359.25 183.71,359.99 184.5,360.7 185.28,361.4 186.06,362.08 186.84,362.76 187.62,363.44 188.41,364.12 189.19,364.8 189.97,365.45 190.75,366.09 191.54,366.69 192.32,367.26 193.1,367.79 193.88,368.28 194.67,368.75 195.45,369.2 196.23,369.64 197.01,370.08 197.8,370.53 198.58,370.99" fill="none" stroke="#141a9a" stroke-width="1.2" stroke-linejoin="round" stroke-linecap="round" />
<path d="M85.9 339.9h0M89.03 333.69h0M92.16 328.09h0M95.29 323.02h0M98.42 318.33h0M101.55 313.98h0M104.68 309.86h0M107.81 305.91h0M110.94 302.77h0M114.07 300.73h0M117.2 299.56h0M120.33 299.3h0M123.46 299.21h0M126.59 299.97h0M129.72 301.65h0M132.85 304.77h0M135.98 308.3h0M139.11 311.68h0M142.24 314.99h0M145.37 317.82h0M148.5 320.25h0M151.63 323.35h0M154.76 327.07h0M157.89 330.59h0M161.02 334.08h0M164.15 337.55h0M167.28 341.16h0M170.41 344.93h0M173.54 348.48h0M176.67 351.98h0M179.8 355.82h0M182.93 359.25h0M186.06 362.08h0M189.19 364.8h0M192.32 367.26h0M195.45 369.2h0M198.58 370.99h0" stroke="#141a9a" stroke-width="1.9" stroke-linecap="round" fill="none"/>
<path d="M114.07 302.38V303.96M113.37 302.38h1.4M113.37 303.96h1.4M117.2 300.66V303.04M116.5 300.66h1.4M116.5 303.04h1.4M120.33 299.86V303.03M119.63 299.86h1.4M119.63 303.03h1.4M123.46 299.52V303.49M122.76 299.52h1.4M122.76 303.49h1.4M126.59 299.56V304.32M125.89 299.56h1.4M125.89 304.32h1.4M129.72 300.72V305.48M129.02 300.72h1.4M129.02 305.48h1.4M132.85 303.13V307.89M132.15 303.13h1.4M132.15 307.89h1.4M135.98 306.09V310.84M135.28 306.09h1.4M135.28 310.84h1.4M139.11 309.28V314.03M138.41 309.28h1.4M138.41 314.03h1.4M142.24 312.24V317M141.54 312.24h1.4M141.54 317h1.4M145.37 315.26V320.02M144.67 315.26h1.4M144.67 320.02h1.4M148.5 318.36V323.12M147.8 318.36h1.4M147.8 323.12h1.4M151.63 321.37V326.13M150.93 321.37h1.4M150.93 326.13h1.4M154.76 324.36V329.12M154.06 324.36h1.4M154.06 329.12h1.4M157.89 327.6V332.36M157.19 327.6h1.4M157.19 332.36h1.4M161.02 330.97V335.73M160.32 330.97h1.4M160.32 335.73h1.4M164.15 334.37V339.13M163.45 334.37h1.4M163.45 339.13h1.4M167.28 337.77V342.53M166.58 337.77h1.4M166.58 342.53h1.4M170.41 341.16V345.91M169.71 341.16h1.4M169.71 345.91h1.4M173.54 344.87V349.63M172.84 344.87h1.4M172.84 349.63h1.4M176.67 348.64V353.4M175.97 348.64h1.4M175.97 353.4h1.4M179.8 352.09V356.85M179.1 352.09h1.4M179.1 356.85h1.4M182.93 355.01V359.77M182.23 355.01h1.4M182.23 359.77h1.4M186.06 357.33V362.09M185.36 357.33h1.4M185.36 362.09h1.4M189.19 359.46V364.21M188.49 359.46h1.4M188.49 364.21h1.4M192.32 361.31V366.07M191.62 361.31h1.4M191.62 366.07h1.4M195.45 362.76V367.52M194.75 362.76h1.4M194.75 367.52h1.4M198.58 364.09V368.84M197.88 364.09h1.4M197.88 368.84h1.4" fill="none" stroke="#42fc0a" stroke-width="0.6" />
<polyline points="85.9,339.9 86.68,338.57 87.47,337.24 88.25,335.9 89.03,334.57 89.81,333.26 90.59,331.97 91.38,330.69 92.16,329.42 92.94,328.14 93.73,326.88 94.51,325.64 95.29,324.41 96.07,323.22 96.86,322.06 97.64,320.92 98.42,319.8 99.2,318.7 99.98,317.61 100.77,316.55 101.55,315.51 102.33,314.49 103.12,313.5 103.9,312.54 104.68,311.61 105.46,310.72 106.25,309.85 107.03,309.02 107.81,308.23 108.59,307.47 109.38,306.75 110.16,306.06 110.94,305.41 111.72,304.78 112.51,304.2 113.29,303.66 114.07,303.17 114.85,302.74 115.64,302.38 116.42,302.08 117.2,301.85 117.98,301.68 118.77,301.56 119.55,301.48 120.33,301.44 121.11,301.43 121.9,301.44 122.68,301.47 123.46,301.51 124.24,301.57 125.03,301.66 125.81,301.78 126.59,301.94 127.37,302.14 128.16,302.39 128.94,302.7 129.72,303.1 130.5,303.61 131.28,304.19 132.07,304.84 132.85,305.51 133.63,306.2 134.42,306.91 135.2,307.67 135.98,308.47 136.76,309.28 137.55,310.09 138.33,310.89 139.11,311.66 139.89,312.41 140.68,313.15 141.46,313.88 142.24,314.62 143.02,315.36 143.81,316.11 144.59,316.87 145.37,317.64 146.15,318.42 146.94,319.19 147.72,319.97 148.5,320.74 149.28,321.51 150.06,322.26 150.85,323.01 151.63,323.75 152.41,324.49 153.19,325.23 153.98,325.98 154.76,326.74 155.54,327.53 156.32,328.33 157.11,329.15 157.89,329.98 158.67,330.82 159.45,331.66 160.24,332.51 161.02,333.35 161.8,334.19 162.59,335.04 163.37,335.9 164.15,336.75 164.93,337.61 165.72,338.46 166.5,339.31 167.28,340.15 168.06,340.98 168.84,341.82 169.63,342.67 170.41,343.53 171.19,344.42 171.98,345.34 172.76,346.29 173.54,347.25 174.32,348.22 175.11,349.18 175.89,350.12 176.67,351.02 177.45,351.91 178.24,352.78 179.02,353.64 179.8,354.47 180.58,355.27 181.37,356.03 182.15,356.73 182.93,357.39 183.71,358.01 184.5,358.6 185.28,359.16 186.06,359.71 186.84,360.25 187.62,360.79 188.41,361.32 189.19,361.83 189.97,362.33 190.75,362.81 191.54,363.26 192.32,363.69 193.1,364.09 193.88,364.46 194.67,364.81 195.45,365.14 196.23,365.47 197.01,365.8 197.8,366.13 198.58,366.47" fill="none" stroke="#42fc0a" stroke-width="1.2" stroke-linejoin="round" stroke-linecap="round" />
<path d="M85.9 339.9h0M89.03 334.57h0M92.16 329.42h0M95.29 324.41h0M98.42 319.8h0M101.55 315.51h0M104.68 311.61h0M107.81 308.23h0M110.94 305.41h0M114.07 303.17h0M117.2 301.85h0M120.33 301.44h0M123.46 301.51h0M126.59 301.94h0M129.72 303.1h0M132.85 305.51h0M135.98 308.47h0M139.11 311.66h0M142.24 314.62h0M145.37 317.64h0M148.5 320.74h0M151.63 323.75h0M154.76 326.74h0M157.89 329.98h0M161.02 333.35h0M164.15 336.75h0M167.28 340.15h0M170.41 343.53h0M173.54 347.25h0M176.67 351.02h0M179.8 354.47h0M182.93 357.39h0M186.06 359.71h0M189.19 361.83h0M192.32 363.69h0M195.45 365.14h0M198.58 366.47h0" stroke="#42fc0a" stroke-width="1.9" stroke-linecap="round" fill="none"/>
<path d="M114.07 299.78V301.89M113.37 299.78h1.4M113.37 301.89h1.4M117.2 297.63V300.8M116.5 297.63h1.4M116.5 300.8h1.4M120.33 295.91V300.14M119.63 295.91h1.4M119.63 300.14h1.4M123.46 294.91V300.2M122.76 294.91h1.4M122.76 300.2h1.4M126.59 294.2V300.54M125.89 294.2h1.4M125.89 300.54h1.4M129.72 294.32V300.67M129.02 294.32h1.4M129.02 300.67h1.4M132.85 296.21V302.56M132.15 296.21h1.4M132.15 302.56h1.4M135.98 298.62V304.96M135.28 298.62h1.4M135.28 304.96h1.4M139.11 300.96V307.31M138.41 300.96h1.4M138.41 307.31h1.4M142.24 303.4V309.74M141.54 303.4h1.4M141.54 309.74h1.4M145.37 305.79V312.13M144.67 305.79h1.4M144.67 312.13h1.4M148.5 308.16V314.51M147.8 308.16h1.4M147.8 314.51h1.4M151.63 310.98V317.32M150.93 310.98h1.4M150.93 317.32h1.4M154.76 313.95V320.3M154.06 313.95h1.4M154.06 320.3h1.4M157.89 316.51V322.86M157.19 316.51h1.4M157.19 322.86h1.4M161.02 318.94V325.29M160.32 318.94h1.4M160.32 325.29h1.4M164.15 321.44V327.78M163.45 321.44h1.4M163.45 327.78h1.4M167.28 324.05V330.4M166.58 324.05h1.4M166.58 330.4h1.4M170.41 326.79V333.13M169.71 326.79h1.4M169.71 333.13h1.4M173.54 329.35V335.7M172.84 329.35h1.4M172.84 335.7h1.4M176.67 331.86V338.2M175.97 331.86h1.4M175.97 338.2h1.4M179.8 334.5V340.85M179.1 334.5h1.4M179.1 340.85h1.4M182.93 336.95V343.3M182.23 336.95h1.4M182.23 343.3h1.4M186.06 339.14V345.48M185.36 339.14h1.4M185.36 345.48h1.4M189.19 340.98V347.33M188.49 340.98h1.4M188.49 347.33h1.4M192.32 342.68V349.02M191.62 342.68h1.4M191.62 349.02h1.4M195.45 344.63V350.97M194.75 344.63h1.4M194.75 350.97h1.4M198.58 346.64V352.98M197.88 346.64h1.4M197.88 352.98h1.4" fill="none" stroke="#0834ac" stroke-width="0.6" />
<polyline points="85.9,339.9 86.68,338.36 87.47,336.8 88.25,335.23 89.03,333.69 89.81,332.2 90.59,330.78 91.38,329.42 92.16,328.09 92.94,326.78 93.73,325.5 94.51,324.25 95.29,323.02 96.07,321.81 96.86,320.63 97.64,319.47 98.42,318.33 99.2,317.22 99.98,316.12 100.77,315.04 101.55,313.98 102.33,312.93 103.12,311.9 103.9,310.88 104.68,309.86 105.46,308.84 106.25,307.83 107.03,306.85 107.81,305.91 108.59,305.01 109.38,304.19 110.16,303.44 110.94,302.78 111.72,302.21 112.51,301.71 113.29,301.26 114.07,300.83 114.85,300.42 115.64,300.01 116.42,299.6 117.2,299.22 117.98,298.86 118.77,298.54 119.55,298.26 120.33,298.03 121.11,297.85 121.9,297.71 122.68,297.62 123.46,297.55 124.24,297.51 125.03,297.47 125.81,297.43 126.59,297.37 127.37,297.32 128.16,297.31 128.94,297.36 129.72,297.5 130.5,297.76 131.28,298.19 132.07,298.75 132.85,299.38 133.63,300.04 134.42,300.65 135.2,301.22 135.98,301.79 136.76,302.37 137.55,302.95 138.33,303.54 139.11,304.14 139.89,304.74 140.68,305.35 141.46,305.96 142.24,306.57 143.02,307.18 143.81,307.78 144.59,308.38 145.37,308.96 146.15,309.54 146.94,310.12 147.72,310.72 148.5,311.34 149.28,311.99 150.06,312.68 150.85,313.4 151.63,314.15 152.41,314.9 153.19,315.66 153.98,316.41 154.76,317.12 155.54,317.81 156.32,318.45 157.11,319.08 157.89,319.68 158.67,320.28 159.45,320.88 160.24,321.49 161.02,322.11 161.8,322.74 162.59,323.36 163.37,323.98 164.15,324.61 164.93,325.25 165.72,325.89 166.5,326.55 167.28,327.23 168.06,327.91 168.84,328.6 169.63,329.28 170.41,329.96 171.19,330.62 171.98,331.27 172.76,331.9 173.54,332.53 174.32,333.15 175.11,333.77 175.89,334.4 176.67,335.03 177.45,335.68 178.24,336.35 179.02,337.01 179.8,337.67 180.58,338.32 181.37,338.94 182.15,339.54 182.93,340.13 183.71,340.7 184.5,341.25 185.28,341.79 186.06,342.31 186.84,342.82 187.62,343.29 188.41,343.73 189.19,344.15 189.97,344.56 190.75,344.97 191.54,345.4 192.32,345.85 193.1,346.32 193.88,346.81 194.67,347.3 195.45,347.8 196.23,348.3 197.01,348.81 197.8,349.31 198.58,349.81" fill="none" stroke="#0834ac" stroke-width="1.2" stroke-linejoin="round" stroke-linecap="round" />
<path d="M85.9 339.9h0M89.03 333.69h0M92.16 328.09h0M95.29 323.02h0M98.42 318.33h0M101.55 313.98h0M104.68 309.86h0M107.81 305.91h0M110.94 302.78h0M114.07 300.83h0M117.2 299.22h0M120.33 298.03h0M123.46 297.55h0M126.59 297.37h0M129.72 297.5h0M132.85 299.38h0M135.98 301.79h0M139.11 304.14h0M142.24 306.57h0M145.37 308.96h0M148.5 311.34h0M151.63 314.15h0M154.76 317.12h0M157.89 319.68h0M161.02 322.11h0M164.15 324.61h0M167.28 327.23h0M170.41 329.96h0M173.54 332.53h0M176.67 335.03h0M179.8 337.67h0M182.93 340.13h0M186.06 342.31h0M189.19 344.15h0M192.32 345.85h0M195.45 347.8h0M198.58 349.81h0" stroke="#0834ac" stroke-width="2.3" stroke-linecap="round" fill="none"/>
<path d="M117.2 298.56V300.31M116.5 298.56h1.4M116.5 300.31h1.4M120.33 297.66V299.99M119.63 297.66h1.4M119.63 299.99h1.4M123.46 297.12V300.03M122.76 297.12h1.4M122.76 300.03h1.4M126.59 297.12V300.61M125.89 297.12h1.4M125.89 300.61h1.4M129.72 298.02V301.51M129.02 298.02h1.4M129.02 301.51h1.4M132.85 300.52V304.01M132.15 300.52h1.4M132.15 304.01h1.4M135.98 303.76V307.25M135.28 303.76h1.4M135.28 307.25h1.4M139.11 307.18V310.67M138.41 307.18h1.4M138.41 310.67h1.4M142.24 310.77V314.26M141.54 310.77h1.4M141.54 314.26h1.4M145.37 313.78V317.27M144.67 313.78h1.4M144.67 317.27h1.4M148.5 316.24V319.73M147.8 316.24h1.4M147.8 319.73h1.4M151.63 318.57V322.06M150.93 318.57h1.4M150.93 322.06h1.4M154.76 320.72V324.21M154.06 320.72h1.4M154.06 324.21h1.4M157.89 322.66V326.15M157.19 322.66h1.4M157.19 326.15h1.4M161.02 324.58V328.07M160.32 324.58h1.4M160.32 328.07h1.4M164.15 326.68V330.17M163.45 326.68h1.4M163.45 330.17h1.4M167.28 328.81V332.3M166.58 328.81h1.4M166.58 332.3h1.4M170.41 330.92V334.41M169.71 330.92h1.4M169.71 334.41h1.4M173.54 332.77V336.26M172.84 332.77h1.4M172.84 336.26h1.4M176.67 334.43V337.92M175.97 334.43h1.4M175.97 337.92h1.4M179.8 336.02V339.51M179.1 336.02h1.4M179.1 339.51h1.4M182.93 337.42V340.91M182.23 337.42h1.4M182.23 340.91h1.4M186.06 338.61V342.1M185.36 338.61h1.4M185.36 342.1h1.4M189.19 339.68V343.17M188.49 339.68h1.4M188.49 343.17h1.4M192.32 340.69V344.18M191.62 340.69h1.4M191.62 344.18h1.4M195.45 341.79V345.28M194.75 341.79h1.4M194.75 345.28h1.4M198.58 342.91V346.4M197.88 342.91h1.4M197.88 346.4h1.4" fill="none" stroke="#cc0418" stroke-width="0.6" />
<polyline points="85.9,339.9 86.68,338.36 87.47,336.8 88.25,335.23 89.03,333.69 89.81,332.2 90.59,330.78 91.38,329.42 92.16,328.09 92.94,326.78 93.73,325.5 94.51,324.25 95.29,323.02 96.07,321.81 96.86,320.63 97.64,319.47 98.42,318.33 99.2,317.22 99.98,316.12 100.77,315.04 101.55,313.98 102.33,312.93 103.12,311.9 103.9,310.88 104.68,309.86 105.46,308.84 106.25,307.83 107.03,306.85 107.81,305.91 108.59,305.01 109.38,304.19 110.16,303.44 110.94,302.77 111.72,302.18 112.51,301.66 113.29,301.19 114.07,300.77 114.85,300.38 115.64,300.01 116.42,299.69 117.2,299.43 117.98,299.23 118.77,299.07 119.55,298.94 120.33,298.82 121.11,298.72 121.9,298.64 122.68,298.59 123.46,298.57 124.24,298.59 125.03,298.66 125.81,298.76 126.59,298.86 127.37,298.99 128.16,299.18 128.94,299.42 129.72,299.76 130.5,300.21 131.28,300.79 132.07,301.49 132.85,302.27 133.63,303.08 134.42,303.9 135.2,304.69 135.98,305.5 136.76,306.34 137.55,307.2 138.33,308.06 139.11,308.92 139.89,309.81 140.68,310.72 141.46,311.63 142.24,312.51 143.02,313.35 143.81,314.13 144.59,314.84 145.37,315.52 146.15,316.17 146.94,316.79 147.72,317.39 148.5,317.98 149.28,318.57 150.06,319.16 150.85,319.74 151.63,320.31 152.41,320.87 153.19,321.41 153.98,321.94 154.76,322.46 155.54,322.97 156.32,323.47 157.11,323.94 157.89,324.41 158.67,324.87 159.45,325.34 160.24,325.82 161.02,326.33 161.8,326.84 162.59,327.36 163.37,327.89 164.15,328.43 164.93,328.96 165.72,329.49 166.5,330.01 167.28,330.55 168.06,331.09 168.84,331.63 169.63,332.16 170.41,332.67 171.19,333.16 171.98,333.63 172.76,334.08 173.54,334.51 174.32,334.94 175.11,335.36 175.89,335.77 176.67,336.18 177.45,336.58 178.24,336.98 179.02,337.38 179.8,337.76 180.58,338.13 181.37,338.49 182.15,338.83 182.93,339.16 183.71,339.47 184.5,339.78 185.28,340.07 186.06,340.36 186.84,340.64 187.62,340.91 188.41,341.17 189.19,341.43 189.97,341.67 190.75,341.92 191.54,342.18 192.32,342.44 193.1,342.71 193.88,342.98 194.67,343.26 195.45,343.54 196.23,343.82 197.01,344.1 197.8,344.38 198.58,344.66" fill="none" stroke="#cc0418" stroke-width="1.2" stroke-linejoin="round" stroke-linecap="round" />
<path d="M85.9 339.9h0M89.03 333.69h0M92.16 328.09h0M95.29 323.02h0M98.42 318.33h0M101.55 313.98h0M104.68 309.86h0M107.81 305.91h0M110.94 302.77h0M114.07 300.77h0M117.2 299.43h0M120.33 298.82h0M123.46 298.57h0M126.59 298.86h0M129.72 299.76h0M132.85 302.27h0M135.98 305.5h0M139.11 308.92h0M142.24 312.51h0M145.37 315.52h0M148.5 317.98h0M151.63 320.31h0M154.76 322.46h0M157.89 324.41h0M161.02 326.33h0M164.15 328.43h0M167.28 330.55h0M170.41 332.67h0M173.54 334.51h0M176.67 336.18h0M179.8 337.76h0M182.93 339.16h0M186.06 340.36h0M189.19 341.43h0M192.32 342.44h0M195.45 343.54h0M198.58 344.66h0" stroke="#cc0418" stroke-width="2.3" stroke-linecap="round" fill="none"/>
<polyline points="85.9,339.9 86.68,338.57 87.47,337.24 88.25,335.9 89.03,334.57 89.81,333.26 90.59,331.97 91.38,330.69 92.16,329.42 92.94,328.14 93.73,326.88 94.51,325.64 95.29,324.41 96.07,323.22 96.86,322.06 97.64,320.92 98.42,319.8 99.2,318.7 99.98,317.61 100.77,316.55 101.55,315.51 102.33,314.49 103.12,313.5 103.9,312.54 104.68,311.61 105.46,310.72 106.25,309.85 107.03,309.02 107.81,308.23 108.59,307.47 109.38,306.75 110.16,306.06 110.94,305.41 111.72,304.78 112.51,304.2 113.29,303.66 114.07,303.17 114.85,302.74 115.64,302.38 116.42,302.08 117.2,301.85 117.98,301.68 118.77,301.56 119.55,301.48 120.33,301.44" fill="none" stroke="#42fc0a" stroke-width="1.2" stroke-linejoin="round" stroke-linecap="round" />
<path d="M85.9 339.9h0M89.03 333.69h0M92.16 328.09h0M95.29 323.02h0M98.42 318.33h0M101.55 313.98h0M104.68 309.86h0M107.81 305.91h0M110.94 302.77h0M114.07 300.77h0M117.2 299.43h0M120.33 298.82h0" stroke="#cc0418" stroke-width="1.8" stroke-linecap="round" fill="none"/>
<text x="148.6" y="359.5" font-size="6.9" text-anchor="middle" textLength="28.5" lengthAdjust="spacingAndGlyphs">Time (hours)</text>
<line x1="90" y1="364.4" x2="95.2" y2="364.4" stroke="#cc0418" stroke-width="1.1" />
<circle cx="92.6" cy="364.4" r="1.1" fill="#cc0418"/>
<text x="98" y="366.2" font-size="5.05">DMSO Control</text>
<line x1="90" y1="372.4" x2="95.2" y2="372.4" stroke="#0834ac" stroke-width="1.1" />
<circle cx="92.6" cy="372.4" r="1.1" fill="#0834ac"/>
<text x="98" y="374.2" font-size="5.05">0.014µM Tolinapant</text>
<line x1="90" y1="380.4" x2="95.2" y2="380.4" stroke="#42fc0a" stroke-width="1.1" />
<circle cx="92.6" cy="380.4" r="1.1" fill="#42fc0a"/>
<text x="98" y="382.2" font-size="5.05">0.041µM Tolinapant</text>
<line x1="90" y1="388.4" x2="95.2" y2="388.4" stroke="#141a9a" stroke-width="1.1" />
<circle cx="92.6" cy="388.4" r="1.1" fill="#141a9a"/>
<text x="98" y="390.2" font-size="5.05">0.123µM Tolinapant</text>
<line x1="90" y1="396.4" x2="95.2" y2="396.4" stroke="#ff8a1e" stroke-width="1.1" />
<circle cx="92.6" cy="396.4" r="1.1" fill="#ff8a1e"/>
<text x="98" y="398.2" font-size="5.05">0.37µM Tolinapant</text>
<line x1="90" y1="404.4" x2="95.2" y2="404.4" stroke="#1a7a1a" stroke-width="1.1" />
<circle cx="92.6" cy="404.4" r="1.1" fill="#1a7a1a"/>
<text x="98" y="406.2" font-size="5.05">1.1µM Tolinapant</text>
<line x1="90" y1="412.4" x2="95.2" y2="412.4" stroke="#8c8cff" stroke-width="1.1" />
<circle cx="92.6" cy="412.4" r="1.1" fill="#8c8cff"/>
<text x="98" y="414.2" font-size="5.05">3.3µM Tolinapant</text>
<line x1="90" y1="420.4" x2="95.2" y2="420.4" stroke="#0f2350" stroke-width="1.1" />
<circle cx="92.6" cy="420.4" r="1.1" fill="#0f2350"/>
<text x="98" y="422.2" font-size="5.05">10µM Tolinapant</text>
<text x="260.8" y="288" font-size="11" font-weight="bold">F</text>
<text x="328.4" y="284.3" font-size="6.25">+ PBMC_Apoptosis</text>
<text transform="translate(273.3 343.4) rotate(-90)" font-size="6.6" text-anchor="middle" textLength="50" lengthAdjust="spacingAndGlyphs">% caspase-3 activated</text>
<line x1="292.45" y1="291.2" x2="292.45" y2="397.4" stroke="#000" stroke-width="1.3" />
<path d="M289.45 396.8H292.45M289.45 380.65H292.45M289.45 364.5H292.45M289.45 348.35H292.45M289.45 332.2H292.45M289.45 316.05H292.45M289.45 299.9H292.45" fill="none" stroke="#000" stroke-width="1.1" />
<text x="286.9" y="398.9" text-anchor="end">0</text>
<text x="286.9" y="382.75" text-anchor="end">5</text>
<text x="286.9" y="366.6" text-anchor="end">10</text>
<text x="286.9" y="350.45" text-anchor="end">15</text>
<text x="286.9" y="334.3" text-anchor="end">20</text>
<text x="286.9" y="318.15" text-anchor="end">25</text>
<text x="286.9" y="302" text-anchor="end">30</text>
<line x1="291.8" y1="396.8" x2="420.8" y2="396.8" stroke="#000" stroke-width="1.3" />
<path d="M292.4 396.8V399.3M324.5 396.8V399.3M356.6 396.8V399.3M388.7 396.8V399.3M420.8 396.8V399.3" fill="none" stroke="#000" stroke-width="0.9" />
<text x="292.4" y="407" text-anchor="middle">0</text>
<text x="324.5" y="407" text-anchor="middle">20</text>
<text x="356.6" y="407" text-anchor="middle">40</text>
<text x="388.7" y="407" text-anchor="middle">60</text>
<text x="420.8" y="407" text-anchor="middle">80</text>
<polyline points="292.4,395.51 295.61,395.57 298.82,395.63 302.03,395.7 305.24,395.76 308.45,395.82 311.66,395.89 314.87,395.96 318.08,396.04 321.29,396.1 324.5,396.14 327.71,396.17 330.92,396.2 334.13,396.18 337.34,396.06 340.55,395.67 343.76,395.06 346.97,394.41 350.18,393.57 353.39,392.41 356.6,390.99 359.81,388.68 363.02,387.56 366.23,390.66 369.44,390.22 372.65,389.37 375.86,390.02 379.07,391.31 382.28,391.58 385.49,391.63 388.7,391.59 391.91,391.63 395.12,392.14 398.33,392.6 401.54,392.22 404.75,392.33 407.96,393.09" fill="none" stroke="#cc0418" stroke-width="1.2" stroke-linejoin="round" stroke-linecap="round" />
<path d="M292.4 395.51h0M295.61 395.57h0M298.82 395.63h0M302.03 395.7h0M305.24 395.76h0M308.45 395.82h0M311.66 395.89h0M314.87 395.96h0M318.08 396.04h0M321.29 396.1h0M324.5 396.14h0M327.71 396.17h0M330.92 396.2h0M334.13 396.18h0M337.34 396.06h0M340.55 395.67h0M343.76 395.06h0M346.97 394.41h0M350.18 393.57h0M353.39 392.41h0M356.6 390.99h0M359.81 388.68h0M363.02 387.56h0M366.23 390.66h0M369.44 390.22h0M372.65 389.37h0M375.86 390.02h0M379.07 391.31h0M382.28 391.58h0M385.49 391.63h0M388.7 391.59h0M391.91 391.63h0M395.12 392.14h0M398.33 392.6h0M401.54 392.22h0M404.75 392.33h0M407.96 393.09h0" stroke="#cc0418" stroke-width="1.8" stroke-linecap="round" fill="none"/>
<path d="M356.6 390.82V394.05M355.9 390.82h1.4M355.9 394.05h1.4M359.81 388.79V392.02M359.11 388.79h1.4M359.11 392.02h1.4M363.02 386.87V390.1M362.32 386.87h1.4M362.32 390.1h1.4M366.23 385.61V388.84M365.53 385.61h1.4M365.53 388.84h1.4M369.44 384.16V387.39M368.74 384.16h1.4M368.74 387.39h1.4M372.65 381.84V385.07M371.95 381.84h1.4M371.95 385.07h1.4M375.86 380.32V383.55M375.16 380.32h1.4M375.16 383.55h1.4M379.07 382.66V385.89M378.37 382.66h1.4M378.37 385.89h1.4M382.28 379.72V382.95M381.58 379.72h1.4M381.58 382.95h1.4M385.49 380.69V383.92M384.79 380.69h1.4M384.79 383.92h1.4M388.7 381.75V384.98M388 381.75h1.4M388 384.98h1.4M391.91 381.57V384.8M391.21 381.57h1.4M391.21 384.8h1.4M395.12 381.27V384.5M394.42 381.27h1.4M394.42 384.5h1.4M398.33 380.75V383.98M397.63 380.75h1.4M397.63 383.98h1.4M401.54 380.56V383.79M400.84 380.56h1.4M400.84 383.79h1.4M404.75 384.99V388.22M404.05 384.99h1.4M404.05 388.22h1.4M407.96 382.75V385.98M407.26 382.75h1.4M407.26 385.98h1.4" fill="none" stroke="#0834ac" stroke-width="0.6" />
<polyline points="292.4,396.15 295.61,396.18 298.82,396.21 302.03,396.23 305.24,396.26 308.45,396.29 311.66,396.32 314.87,396.36 318.08,396.4 321.29,396.42 324.5,396.42 327.71,396.42 330.92,396.42 334.13,396.36 337.34,396.21 340.55,395.69 343.76,395.13 346.97,395.16 350.18,394.99 353.39,393.95 356.6,392.43 359.81,390.4 363.02,388.49 366.23,387.23 369.44,385.78 372.65,383.46 375.86,381.94 379.07,384.28 382.28,381.33 385.49,382.31 388.7,383.37 391.91,383.19 395.12,382.88 398.33,382.37 401.54,382.18 404.75,386.61 407.96,384.36" fill="none" stroke="#0834ac" stroke-width="1.2" stroke-linejoin="round" stroke-linecap="round" />
<path d="M292.4 396.15h0M295.61 396.18h0M298.82 396.21h0M302.03 396.23h0M305.24 396.26h0M308.45 396.29h0M311.66 396.32h0M314.87 396.36h0M318.08 396.4h0M321.29 396.42h0M324.5 396.42h0M327.71 396.42h0M330.92 396.42h0M334.13 396.36h0M337.34 396.21h0M340.55 395.69h0M343.76 395.13h0M346.97 395.16h0M350.18 394.99h0M353.39 393.95h0M356.6 392.43h0M359.81 390.4h0M363.02 388.49h0M366.23 387.23h0M369.44 385.78h0M372.65 383.46h0M375.86 381.94h0M379.07 384.28h0M382.28 381.33h0M385.49 382.31h0M388.7 383.37h0M391.91 383.19h0M395.12 382.88h0M398.33 382.37h0M401.54 382.18h0M404.75 386.61h0M407.96 384.36h0" stroke="#0834ac" stroke-width="1.8" stroke-linecap="round" fill="none"/>
<path d="M356.6 387.58V392.75M355.9 387.58h1.4M355.9 392.75h1.4M359.81 383.91V389.08M359.11 383.91h1.4M359.11 389.08h1.4M363.02 379.47V384.64M362.32 379.47h1.4M362.32 384.64h1.4M366.23 376.29V381.46M365.53 376.29h1.4M365.53 381.46h1.4M369.44 373.7V378.87M368.74 373.7h1.4M368.74 378.87h1.4M372.65 371.44V376.61M371.95 371.44h1.4M371.95 376.61h1.4M375.86 370.99V376.16M375.16 370.99h1.4M375.16 376.16h1.4M379.07 373.38V378.55M378.37 373.38h1.4M378.37 378.55h1.4M382.28 368.78V373.95M381.58 368.78h1.4M381.58 373.95h1.4M385.49 369.21V374.38M384.79 369.21h1.4M384.79 374.38h1.4M388.7 370.02V375.19M388 370.02h1.4M388 375.19h1.4M391.91 370.14V375.31M391.21 370.14h1.4M391.21 375.31h1.4M395.12 371.28V376.45M394.42 371.28h1.4M394.42 376.45h1.4M398.33 371.87V377.04M397.63 371.87h1.4M397.63 377.04h1.4M401.54 371.41V376.58M400.84 371.41h1.4M400.84 376.58h1.4M404.75 374V379.17M404.05 374h1.4M404.05 379.17h1.4M407.96 374.84V380M407.26 374.84h1.4M407.26 380h1.4" fill="none" stroke="#42fc0a" stroke-width="0.6" />
<polyline points="292.4,397.61 295.61,397.55 298.82,397.5 302.03,397.45 305.24,397.39 308.45,397.34 311.66,397.29 314.87,397.25 318.08,397.2 321.29,397.15 324.5,397.07 327.71,396.99 330.92,396.9 334.13,396.76 337.34,396.53 340.55,396.02 343.76,395.29 346.97,394.6 350.18,393.57 353.39,392.15 356.6,390.17 359.81,386.49 363.02,382.06 366.23,378.88 369.44,376.29 372.65,374.03 375.86,373.58 379.07,375.96 382.28,371.37 385.49,371.8 388.7,372.61 391.91,372.73 395.12,373.87 398.33,374.46 401.54,373.99 404.75,376.58 407.96,377.42" fill="none" stroke="#42fc0a" stroke-width="1.2" stroke-linejoin="round" stroke-linecap="round" />
<path d="M292.4 397.61h0M295.61 397.55h0M298.82 397.5h0M302.03 397.45h0M305.24 397.39h0M308.45 397.34h0M311.66 397.29h0M314.87 397.25h0M318.08 397.2h0M321.29 397.15h0M324.5 397.07h0M327.71 396.99h0M330.92 396.9h0M334.13 396.76h0M337.34 396.53h0M340.55 396.02h0M343.76 395.29h0M346.97 394.6h0M350.18 393.57h0M353.39 392.15h0M356.6 390.17h0M359.81 386.49h0M363.02 382.06h0M366.23 378.88h0M369.44 376.29h0M372.65 374.03h0M375.86 373.58h0M379.07 375.96h0M382.28 371.37h0M385.49 371.8h0M388.7 372.61h0M391.91 372.73h0M395.12 373.87h0M398.33 374.46h0M401.54 373.99h0M404.75 376.58h0M407.96 377.42h0" stroke="#42fc0a" stroke-width="1.8" stroke-linecap="round" fill="none"/>
<path d="M356.6 370.31V383.23M355.9 370.31h1.4M355.9 383.23h1.4M359.81 362.67V375.59M359.11 362.67h1.4M359.11 375.59h1.4M363.02 356.84V369.76M362.32 356.84h1.4M362.32 369.76h1.4M366.23 355.29V368.21M365.53 355.29h1.4M365.53 368.21h1.4M369.44 354.55V367.47M368.74 354.55h1.4M368.74 367.47h1.4M372.65 353.13V366.05M371.95 353.13h1.4M371.95 366.05h1.4M375.86 353.38V366.3M375.16 353.38h1.4M375.16 366.3h1.4M379.07 356.85V369.77M378.37 356.85h1.4M378.37 369.77h1.4M382.28 356.13V369.05M381.58 356.13h1.4M381.58 369.05h1.4M385.49 356.07V368.99M384.79 356.07h1.4M384.79 368.99h1.4M388.7 354.11V367.03M388 354.11h1.4M388 367.03h1.4M391.91 350.57V363.49M391.21 350.57h1.4M391.21 363.49h1.4M395.12 352.5V365.42M394.42 352.5h1.4M394.42 365.42h1.4M398.33 354.03V366.95M397.63 354.03h1.4M397.63 366.95h1.4M401.54 355.28V368.2M400.84 355.28h1.4M400.84 368.2h1.4M404.75 356.95V369.87M404.05 356.95h1.4M404.05 369.87h1.4M407.96 357.39V370.31M407.26 357.39h1.4M407.26 370.31h1.4" fill="none" stroke="#1a7a1a" stroke-width="0.6" />
<polyline points="292.4,397.28 295.61,397.25 298.82,397.21 302.03,397.18 305.24,397.14 308.45,397.11 311.66,397.07 314.87,397.05 318.08,397.02 321.29,396.98 324.5,396.93 327.71,396.86 330.92,396.8 334.13,396.67 337.34,396.46 340.55,396.21 343.76,395.26 346.97,393.21 350.18,389.69 353.39,383.76 356.6,376.77 359.81,369.13 363.02,363.3 366.23,361.75 369.44,361.01 372.65,359.59 375.86,359.84 379.07,363.31 382.28,362.59 385.49,362.53 388.7,360.57 391.91,357.03 395.12,358.96 398.33,360.49 401.54,361.74 404.75,363.41 407.96,363.85" fill="none" stroke="#1a7a1a" stroke-width="1.2" stroke-linejoin="round" stroke-linecap="round" />
<path d="M292.4 397.28h0M295.61 397.25h0M298.82 397.21h0M302.03 397.18h0M305.24 397.14h0M308.45 397.11h0M311.66 397.07h0M314.87 397.05h0M318.08 397.02h0M321.29 396.98h0M324.5 396.93h0M327.71 396.86h0M330.92 396.8h0M334.13 396.67h0M337.34 396.46h0M340.55 396.21h0M343.76 395.26h0M346.97 393.21h0M350.18 389.69h0M353.39 383.76h0M356.6 376.77h0M359.81 369.13h0M363.02 363.3h0M366.23 361.75h0M369.44 361.01h0M372.65 359.59h0M375.86 359.84h0M379.07 363.31h0M382.28 362.59h0M385.49 362.53h0M388.7 360.57h0M391.91 357.03h0M395.12 358.96h0M398.33 360.49h0M401.54 361.74h0M404.75 363.41h0M407.96 363.85h0" stroke="#1a7a1a" stroke-width="1.8" stroke-linecap="round" fill="none"/>
<path d="M356.6 375.48V388.4M355.9 375.48h1.4M355.9 388.4h1.4M359.81 370.67V383.59M359.11 370.67h1.4M359.11 383.59h1.4M363.02 366.57V379.49M362.32 366.57h1.4M362.32 379.49h1.4M366.23 363.9V376.82M365.53 363.9h1.4M365.53 376.82h1.4M369.44 361.3V374.22M368.74 361.3h1.4M368.74 374.22h1.4M372.65 357.73V370.65M371.95 357.73h1.4M371.95 370.65h1.4M375.86 356.41V369.33M375.16 356.41h1.4M375.16 369.33h1.4M379.07 359.63V372.55M378.37 359.63h1.4M378.37 372.55h1.4M382.28 356.82V369.74M381.58 356.82h1.4M381.58 369.74h1.4M385.49 356.67V369.59M384.79 356.67h1.4M384.79 369.59h1.4M388.7 354.54V367.46M388 354.54h1.4M388 367.46h1.4M391.91 350.12V363.04M391.21 350.12h1.4M391.21 363.04h1.4M395.12 351.55V364.47M394.42 351.55h1.4M394.42 364.47h1.4M398.33 349.3V362.22M397.63 349.3h1.4M397.63 362.22h1.4M401.54 346.98V359.9M400.84 346.98h1.4M400.84 359.9h1.4M404.75 354.52V367.44M404.05 354.52h1.4M404.05 367.44h1.4M407.96 350.29V363.21M407.26 350.29h1.4M407.26 363.21h1.4" fill="none" stroke="#ff8a1e" stroke-width="0.6" />
<polyline points="292.4,396.96 295.61,396.94 298.82,396.93 302.03,396.91 305.24,396.89 308.45,396.87 311.66,396.86 314.87,396.85 318.08,396.84 321.29,396.82 324.5,396.78 327.71,396.74 330.92,396.69 334.13,396.59 337.34,396.39 340.55,396.04 343.76,395.22 346.97,393.96 350.18,391.63 353.39,387.13 356.6,381.94 359.81,377.13 363.02,373.03 366.23,370.36 369.44,367.76 372.65,364.19 375.86,362.87 379.07,366.09 382.28,363.28 385.49,363.13 388.7,361 391.91,356.58 395.12,358.01 398.33,355.76 401.54,353.44 404.75,360.98 407.96,356.75" fill="none" stroke="#ff8a1e" stroke-width="1.2" stroke-linejoin="round" stroke-linecap="round" />
<path d="M292.4 396.96h0M295.61 396.94h0M298.82 396.93h0M302.03 396.91h0M305.24 396.89h0M308.45 396.87h0M311.66 396.86h0M314.87 396.85h0M318.08 396.84h0M321.29 396.82h0M324.5 396.78h0M327.71 396.74h0M330.92 396.69h0M334.13 396.59h0M337.34 396.39h0M340.55 396.04h0M343.76 395.22h0M346.97 393.96h0M350.18 391.63h0M353.39 387.13h0M356.6 381.94h0M359.81 377.13h0M363.02 373.03h0M366.23 370.36h0M369.44 367.76h0M372.65 364.19h0M375.86 362.87h0M379.07 366.09h0M382.28 363.28h0M385.49 363.13h0M388.7 361h0M391.91 356.58h0M395.12 358.01h0M398.33 355.76h0M401.54 353.44h0M404.75 360.98h0M407.96 356.75h0" stroke="#ff8a1e" stroke-width="1.8" stroke-linecap="round" fill="none"/>
<path d="M356.6 376.77V390.99M355.9 376.77h1.4M355.9 390.99h1.4M359.81 370.43V384.64M359.11 370.43h1.4M359.11 384.64h1.4M363.02 364.86V379.07M362.32 364.86h1.4M362.32 379.07h1.4M366.23 362.12V376.33M365.53 362.12h1.4M365.53 376.33h1.4M369.44 359.68V373.89M368.74 359.68h1.4M368.74 373.89h1.4M372.65 355.84V370.05M371.95 355.84h1.4M371.95 370.05h1.4M375.86 356V370.21M375.16 356h1.4M375.16 370.21h1.4M379.07 363.44V377.66M378.37 363.44h1.4M378.37 377.66h1.4M382.28 356.29V370.5M381.58 356.29h1.4M381.58 370.5h1.4M385.49 355.37V369.58M384.79 355.37h1.4M384.79 369.58h1.4M388.7 353.16V367.37M388 353.16h1.4M388 367.37h1.4M391.91 348.96V363.17M391.21 348.96h1.4M391.21 363.17h1.4M395.12 351.4V365.61M394.42 351.4h1.4M394.42 365.61h1.4M398.33 353.1V367.32M397.63 353.1h1.4M397.63 367.32h1.4M401.54 354.31V368.52M400.84 354.31h1.4M400.84 368.52h1.4M404.75 355.98V370.2M404.05 355.98h1.4M404.05 370.2h1.4M407.96 356.43V370.64M407.26 356.43h1.4M407.26 370.64h1.4" fill="none" stroke="#141a9a" stroke-width="0.6" />
<polyline points="292.4,396.48 295.61,396.49 298.82,396.49 302.03,396.5 305.24,396.51 308.45,396.52 311.66,396.54 314.87,396.56 318.08,396.57 321.29,396.58 324.5,396.57 327.71,396.55 330.92,396.53 334.13,396.45 337.34,396.28 340.55,395.92 343.76,395.17 346.97,394.18 350.18,392.28 353.39,388.65 356.6,383.88 359.81,377.54 363.02,371.96 366.23,369.22 369.44,366.79 372.65,362.95 375.86,363.11 379.07,370.55 382.28,363.4 385.49,362.48 388.7,360.26 391.91,356.07 395.12,358.5 398.33,360.21 401.54,361.42 404.75,363.09 407.96,363.53" fill="none" stroke="#141a9a" stroke-width="1.5" stroke-linejoin="round" stroke-linecap="round" />
<path d="M292.4 396.48h0M295.61 396.49h0M298.82 396.49h0M302.03 396.5h0M305.24 396.51h0M308.45 396.52h0M311.66 396.54h0M314.87 396.56h0M318.08 396.57h0M321.29 396.58h0M324.5 396.57h0M327.71 396.55h0M330.92 396.53h0M334.13 396.45h0M337.34 396.28h0M340.55 395.92h0M343.76 395.17h0M346.97 394.18h0M350.18 392.28h0M353.39 388.65h0M356.6 383.88h0M359.81 377.54h0M363.02 371.96h0M366.23 369.22h0M369.44 366.79h0M372.65 362.95h0M375.86 363.11h0M379.07 370.55h0M382.28 363.4h0M385.49 362.48h0M388.7 360.26h0M391.91 356.07h0M395.12 358.5h0M398.33 360.21h0M401.54 361.42h0M404.75 363.09h0M407.96 363.53h0" stroke="#141a9a" stroke-width="1.8" stroke-linecap="round" fill="none"/>
<path d="M356.6 370.96V380.65M355.9 370.96h1.4M355.9 380.65h1.4M359.81 363.91V373.6M359.11 363.91h1.4M359.11 373.6h1.4M363.02 357.02V366.71M362.32 357.02h1.4M362.32 366.71h1.4M366.23 351.26V360.95M365.53 351.26h1.4M365.53 360.95h1.4M369.44 350.84V360.53M368.74 350.84h1.4M368.74 360.53h1.4M372.65 350.1V359.79M371.95 350.1h1.4M371.95 359.79h1.4M375.86 344.56V354.25M375.16 344.56h1.4M375.16 354.25h1.4M379.07 350.31V360M378.37 350.31h1.4M378.37 360h1.4M382.28 346.49V356.18M381.58 346.49h1.4M381.58 356.18h1.4M385.49 347.04V356.73M384.79 347.04h1.4M384.79 356.73h1.4M388.7 346.08V355.77M388 346.08h1.4M388 355.77h1.4M391.91 339.73V349.42M391.21 339.73h1.4M391.21 349.42h1.4M395.12 330.21V339.9M394.42 330.21h1.4M394.42 339.9h1.4M398.33 336.06V345.75M397.63 336.06h1.4M397.63 345.75h1.4M401.54 319.6V329.29M400.84 319.6h1.4M400.84 329.29h1.4M404.75 333.19V342.88M404.05 333.19h1.4M404.05 342.88h1.4M407.96 326.39V336.08M407.26 326.39h1.4M407.26 336.08h1.4" fill="none" stroke="#8c8cff" stroke-width="0.6" />
<polyline points="292.4,395.83 295.61,395.88 298.82,395.92 302.03,395.97 305.24,396.01 308.45,396.06 311.66,396.11 314.87,396.16 318.08,396.22 321.29,396.26 324.5,396.28 327.71,396.3 330.92,396.31 334.13,396.27 337.34,396.14 340.55,396.01 343.76,395.1 346.97,392.83 350.18,389.05 353.39,382.91 356.6,375.81 359.81,368.76 363.02,361.87 366.23,356.1 369.44,355.68 372.65,354.94 375.86,349.41 379.07,355.15 382.28,351.33 385.49,351.89 388.7,350.93 391.91,344.58 395.12,335.06 398.33,340.9 401.54,324.45 404.75,338.04 407.96,331.23" fill="none" stroke="#8c8cff" stroke-width="1.2" stroke-linejoin="round" stroke-linecap="round" />
<path d="M292.4 395.83h0M295.61 395.88h0M298.82 395.92h0M302.03 395.97h0M305.24 396.01h0M308.45 396.06h0M311.66 396.11h0M314.87 396.16h0M318.08 396.22h0M321.29 396.26h0M324.5 396.28h0M327.71 396.3h0M330.92 396.31h0M334.13 396.27h0M337.34 396.14h0M340.55 396.01h0M343.76 395.1h0M346.97 392.83h0M350.18 389.05h0M353.39 382.91h0M356.6 375.81h0M359.81 368.76h0M363.02 361.87h0M366.23 356.1h0M369.44 355.68h0M372.65 354.94h0M375.86 349.41h0M379.07 355.15h0M382.28 351.33h0M385.49 351.89h0M388.7 350.93h0M391.91 344.58h0M395.12 335.06h0M398.33 340.9h0M401.54 324.45h0M404.75 338.04h0M407.96 331.23h0" stroke="#8c8cff" stroke-width="1.8" stroke-linecap="round" fill="none"/>
<path d="M356.6 368.26V377.95M355.9 368.26h1.4M355.9 377.95h1.4M359.81 360.02V369.71M359.11 360.02h1.4M359.11 369.71h1.4M363.02 352.33V362.02M362.32 352.33h1.4M362.32 362.02h1.4M366.23 341.57V351.26M365.53 341.57h1.4M365.53 351.26h1.4M369.44 343.95V353.64M368.74 343.95h1.4M368.74 353.64h1.4M372.65 335.96V345.65M371.95 335.96h1.4M371.95 345.65h1.4M375.86 330.72V340.41M375.16 330.72h1.4M375.16 340.41h1.4M379.07 335.11V344.8M378.37 335.11h1.4M378.37 344.8h1.4M382.28 331.75V341.44M381.58 331.75h1.4M381.58 341.44h1.4M385.49 325.9V335.59M384.79 325.9h1.4M384.79 335.59h1.4M388.7 311.53V321.22M388 311.53h1.4M388 321.22h1.4M391.91 310.56V320.25M391.21 310.56h1.4M391.21 320.25h1.4M395.12 309.59V319.28M394.42 309.59h1.4M394.42 319.28h1.4M398.33 307.65V317.34M397.63 307.65h1.4M397.63 317.34h1.4M401.54 299.58V309.27M400.84 299.58h1.4M400.84 309.27h1.4M404.75 303.45V313.14M404.05 303.45h1.4M404.05 313.14h1.4M407.96 309.59V319.28M407.26 309.59h1.4M407.26 319.28h1.4" fill="none" stroke="#0f2350" stroke-width="0.6" />
<polyline points="292.4,396.64 295.61,396.64 298.82,396.64 302.03,396.64 305.24,396.64 308.45,396.64 311.66,396.64 314.87,396.66 318.08,396.66 321.29,396.66 324.5,396.64 327.71,396.61 330.92,396.58 334.13,396.5 337.34,396.32 340.55,396.18 343.76,395.19 346.97,392.57 350.18,388.4 353.39,381.46 356.6,373.1 359.81,364.86 363.02,357.17 366.23,346.41 369.44,348.79 372.65,340.8 375.86,335.57 379.07,339.95 382.28,336.59 385.49,330.74 388.7,316.37 391.91,315.4 395.12,314.44 398.33,312.5 401.54,304.42 404.75,308.3 407.96,314.44" fill="none" stroke="#0f2350" stroke-width="1.2" stroke-linejoin="round" stroke-linecap="round" />
<path d="M292.4 396.64h0M295.61 396.64h0M298.82 396.64h0M302.03 396.64h0M305.24 396.64h0M308.45 396.64h0M311.66 396.64h0M314.87 396.66h0M318.08 396.66h0M321.29 396.66h0M324.5 396.64h0M327.71 396.61h0M330.92 396.58h0M334.13 396.5h0M337.34 396.32h0M340.55 396.18h0M343.76 395.19h0M346.97 392.57h0M350.18 388.4h0M353.39 381.46h0M356.6 373.1h0M359.81 364.86h0M363.02 357.17h0M366.23 346.41h0M369.44 348.79h0M372.65 340.8h0M375.86 335.57h0M379.07 339.95h0M382.28 336.59h0M385.49 330.74h0M388.7 316.37h0M391.91 315.4h0M395.12 314.44h0M398.33 312.5h0M401.54 304.42h0M404.75 308.3h0M407.96 314.44h0" stroke="#0f2350" stroke-width="1.8" stroke-linecap="round" fill="none"/>
<text x="355.4" y="416.6" font-size="6.9" text-anchor="middle" textLength="28.2" lengthAdjust="spacingAndGlyphs">Time (hours)</text>
<line x1="299.2" y1="293.5" x2="304.6" y2="293.5" stroke="#cc0418" stroke-width="1.1" />
<circle cx="301.9" cy="293.5" r="1.1" fill="#cc0418"/>
<text x="307" y="295.3" font-size="5.05">DMSO Control</text>
<line x1="299.2" y1="301.5" x2="304.6" y2="301.5" stroke="#0834ac" stroke-width="1.1" />
<circle cx="301.9" cy="301.5" r="1.1" fill="#0834ac"/>
<text x="307" y="303.3" font-size="5.05">0.014µM Tolinapant</text>
<line x1="299.2" y1="309.5" x2="304.6" y2="309.5" stroke="#42fc0a" stroke-width="1.1" />
<circle cx="301.9" cy="309.5" r="1.1" fill="#42fc0a"/>
<text x="307" y="311.3" font-size="5.05">0.041µM Tolinapant</text>
<line x1="299.2" y1="317.5" x2="304.6" y2="317.5" stroke="#141a9a" stroke-width="1.1" />
<circle cx="301.9" cy="317.5" r="1.1" fill="#141a9a"/>
<text x="307" y="319.3" font-size="5.05">0.123µM Tolinapant</text>
<line x1="299.2" y1="325.5" x2="304.6" y2="325.5" stroke="#ff8a1e" stroke-width="1.1" />
<circle cx="301.9" cy="325.5" r="1.1" fill="#ff8a1e"/>
<text x="307" y="327.3" font-size="5.05">0.37µM Tolinapant</text>
<line x1="299.2" y1="333.5" x2="304.6" y2="333.5" stroke="#1a7a1a" stroke-width="1.1" />
<circle cx="301.9" cy="333.5" r="1.1" fill="#1a7a1a"/>
<text x="307" y="335.3" font-size="5.05">1.1µM Tolinapant</text>
<line x1="299.2" y1="341.5" x2="304.6" y2="341.5" stroke="#8c8cff" stroke-width="1.1" />
<circle cx="301.9" cy="341.5" r="1.1" fill="#8c8cff"/>
<text x="307" y="343.3" font-size="5.05">3.3µM Tolinapant</text>
<line x1="299.2" y1="349.5" x2="304.6" y2="349.5" stroke="#0f2350" stroke-width="1.1" />
<circle cx="301.9" cy="349.5" r="1.1" fill="#0f2350"/>
<text x="307" y="351.3" font-size="5.05">10µM Tolinapant</text>
<text x="71.8" y="448.4" font-size="11" font-weight="bold">G</text>
<text x="124" y="445.6" >+ CD8_cell number</text>
<line x1="103.1" y1="455" x2="103.1" y2="521.6" stroke="#000" stroke-width="1.3" />
<path d="M100.1 521H103.1M100.1 510H103.1M100.1 499H103.1M100.1 488H103.1M100.1 477H103.1M100.1 466H103.1M100.1 455H103.1" fill="none" stroke="#000" stroke-width="1.1" />
<text x="98.8" y="523.1" text-anchor="end">−250</text>
<text x="98.8" y="512.1" text-anchor="end">0</text>
<text x="98.8" y="501.1" text-anchor="end">250</text>
<text x="98.8" y="490.1" text-anchor="end">500</text>
<text x="98.8" y="479.1" text-anchor="end">750</text>
<text x="98.8" y="468.1" text-anchor="end">1000</text>
<text x="98.8" y="457.1" text-anchor="end">1250</text>
<text transform="translate(72.8 486.9) rotate(-90)" font-size="6.6" text-anchor="middle" textLength="56" lengthAdjust="spacingAndGlyphs">Normalised A549-NucRed</text>
<text transform="translate(81 485.2) rotate(-90)" font-size="6.6" text-anchor="middle" textLength="18.5" lengthAdjust="spacingAndGlyphs">cell count</text>
<line x1="102.5" y1="510" x2="196.2" y2="510" stroke="#000" stroke-width="1.3" />
<path d="M126.4 510V512.5M149.7 510V512.5M173 510V512.5M196.3 510V512.5" fill="none" stroke="#000" stroke-width="0.9" />
<text x="126.4" y="518.8" text-anchor="middle">20</text>
<text x="149.7" y="518.8" text-anchor="middle">40</text>
<text x="173" y="518.8" text-anchor="middle">60</text>
<text x="196.3" y="518.8" text-anchor="middle">80</text>
<path d="M133.39 464.02V467.62M132.89 464.02h1M132.89 467.62h1M135.72 463.27V466.87M135.22 463.27h1M135.22 466.87h1M138.05 462.76V466.36M137.55 462.76h1M137.55 466.36h1M140.38 462.51V466.11M139.88 462.51h1M139.88 466.11h1M142.71 462.45V466.05M142.21 462.45h1M142.21 466.05h1M145.04 462.44V466.04M144.54 462.44h1M144.54 466.04h1M147.37 462.47V466.07M146.87 462.47h1M146.87 466.07h1M149.7 462.59V466.19M149.2 462.59h1M149.2 466.19h1M152.03 462.85V466.45M151.53 462.85h1M151.53 466.45h1M154.36 463.22V466.82M153.86 463.22h1M153.86 466.82h1M156.69 463.59V467.19M156.19 463.59h1M156.19 467.19h1M159.02 463.99V467.59M158.52 463.99h1M158.52 467.59h1M161.35 464.59V468.19M160.85 464.59h1M160.85 468.19h1M163.68 465.37V468.97M163.18 465.37h1M163.18 468.97h1M166.01 466.09V469.69M165.51 466.09h1M165.51 469.69h1M168.34 466.78V470.38M167.84 466.78h1M167.84 470.38h1M170.67 467.34V470.94M170.17 467.34h1M170.17 470.94h1M173 467.78V471.38M172.5 467.78h1M172.5 471.38h1M175.33 468.12V471.72M174.83 468.12h1M174.83 471.72h1M177.66 468.33V471.93M177.16 468.33h1M177.16 471.93h1M179.99 468.38V471.98M179.49 468.38h1M179.49 471.98h1M182.32 468.37V471.97M181.82 468.37h1M181.82 471.97h1M184.65 468.29V471.89M184.15 468.29h1M184.15 471.89h1M186.98 468.2V471.8M186.48 468.2h1M186.48 471.8h1" fill="none" stroke="#0834ac" stroke-width="0.7" />
<polyline points="103.1,510 104.27,507.87 105.43,505.74 106.59,503.64 107.76,501.6 108.92,499.57 110.09,497.52 111.25,495.54 112.42,493.54 113.58,491.43 114.75,489.08 115.91,486.23 117.08,483.17 118.24,480.39 119.41,478.2 120.57,476.3 121.74,474.62 122.91,473.12 124.07,471.77 125.23,470.63 126.4,469.67 127.56,468.82 128.73,468.05 129.89,467.37 131.06,466.78 132.22,466.28 133.39,465.82 134.56,465.41 135.72,465.07 136.88,464.78 138.05,464.56 139.22,464.4 140.38,464.31 141.54,464.26 142.71,464.25 143.88,464.24 145.04,464.24 146.2,464.25 147.37,464.27 148.53,464.32 149.7,464.39 150.87,464.5 152.03,464.65 153.19,464.83 154.36,465.02 155.53,465.21 156.69,465.39 157.85,465.57 159.02,465.79 160.19,466.06 161.35,466.39 162.51,466.78 163.68,467.17 164.84,467.54 166.01,467.89 167.18,468.25 168.34,468.58 169.5,468.88 170.67,469.14 171.83,469.38 173,469.58 174.16,469.77 175.33,469.92 176.5,470.05 177.66,470.13 178.82,470.17 179.99,470.18 181.16,470.18 182.32,470.17 183.49,470.13 184.65,470.09 185.81,470.04 186.98,470" fill="none" stroke="#0834ac" stroke-width="1.4" stroke-linejoin="round" stroke-linecap="round" />
<path d="M106.36 499.81L109.16 503.01M106.36 503.01L109.16 499.81M108.69 495.08L111.49 498.28M108.69 498.28L111.49 495.08M111.02 488.64L113.82 491.84M111.02 491.84L113.82 488.64M113.35 482.38L116.15 485.58M113.35 485.58L116.15 482.38M115.68 476.41L118.48 479.61M115.68 479.61L118.48 476.41M118.01 471.82L120.81 475.02M118.01 475.02L120.81 471.82M120.34 468.82L123.14 472.02M120.34 472.02L123.14 468.82M122.67 466.58L125.47 469.78M122.67 469.78L125.47 466.58M125 464.96L127.8 468.16M125 468.16L127.8 464.96M127.33 464.04L130.13 467.24M127.33 467.24L130.13 464.04M129.66 464.84L132.46 468.04M129.66 468.04L132.46 464.84M131.99 466.52L134.79 469.72M131.99 469.72L134.79 466.52M134.32 467.97L137.12 471.17M134.32 471.17L137.12 467.97M136.65 469.44L139.45 472.64M136.65 472.64L139.45 469.44M138.98 471.22L141.78 474.42M138.98 474.42L141.78 471.22M141.31 473.18L144.11 476.38M141.31 476.38L144.11 473.18M143.64 475.18L146.44 478.38M143.64 478.38L146.44 475.18M145.97 477.47L148.77 480.67M145.97 480.67L148.77 477.47M148.3 480.02L151.1 483.22M148.3 483.22L151.1 480.02M150.63 482.84L153.43 486.04M150.63 486.04L153.43 482.84M152.96 485.73L155.76 488.93M152.96 488.93L155.76 485.73M155.29 488.23L158.09 491.43M155.29 491.43L158.09 488.23M157.62 490.5L160.42 493.7M157.62 493.7L160.42 490.5M159.95 492.81L162.75 496.01M159.95 496.01L162.75 492.81M162.28 495.11L165.08 498.31M162.28 498.31L165.08 495.11M164.61 497.45L167.41 500.65M164.61 500.65L167.41 497.45M166.94 499.84L169.74 503.04M166.94 503.04L169.74 499.84M169.27 502.02L172.07 505.22M169.27 505.22L172.07 502.02M171.6 503.95L174.4 507.15M171.6 507.15L174.4 503.95M173.93 505.65L176.73 508.85M173.93 508.85L176.73 505.65M176.26 507L179.06 510.2M176.26 510.2L179.06 507M178.59 508.4L181.39 511.6M178.59 511.6L181.39 508.4M180.92 510.19L183.72 513.39M180.92 513.39L183.72 510.19M183.25 512.12L186.05 515.32M183.25 515.32L186.05 512.12M185.58 513.99L188.38 517.19M185.58 517.19L188.38 513.99" fill="none" stroke="#cc0418" stroke-width="0.9" />
<polyline points="103.1,510 104.27,507.79 105.43,505.59 106.59,503.41 107.76,501.41 108.92,499.31 110.09,496.68 111.25,493.55 112.42,490.24 113.58,487.02 114.75,483.98 115.91,480.91 117.08,478.01 118.24,475.46 119.41,473.42 120.57,471.77 121.74,470.42 122.91,469.25 124.07,468.18 125.23,467.28 126.4,466.56 127.56,466.01 128.73,465.64 129.89,465.86 131.06,466.44 132.22,467.23 133.39,468.12 134.56,468.86 135.72,469.57 136.88,470.28 138.05,471.04 139.22,471.88 140.38,472.82 141.54,473.79 142.71,474.78 143.88,475.76 145.04,476.78 146.2,477.89 147.37,479.07 148.53,480.32 149.7,481.62 150.87,482.99 152.03,484.44 153.19,485.92 154.36,487.33 155.53,488.63 156.69,489.83 157.85,490.98 159.02,492.1 160.19,493.25 161.35,494.41 162.51,495.56 163.68,496.71 164.84,497.87 166.01,499.05 167.18,500.26 168.34,501.44 169.5,502.58 170.67,503.62 171.83,504.61 173,505.55 174.16,506.43 175.33,507.25 176.5,507.95 177.66,508.6 178.82,509.26 179.99,510 181.16,510.86 182.32,511.79 183.49,512.76 184.65,513.72 185.81,514.66 186.98,515.59" fill="none" stroke="#cc0418" stroke-width="1.3" stroke-linejoin="round" stroke-linecap="round" />
<text x="149.5" y="529.2" font-size="6.9" text-anchor="middle" textLength="28.5" lengthAdjust="spacingAndGlyphs">Time (hours)</text>
<line x1="176" y1="484.7" x2="183.8" y2="484.7" stroke="#cc0418" stroke-width="1.4" />
<text x="187.3" y="486.8" font-size="5.9">1.1 µM Tolinapant</text>
<line x1="176" y1="492" x2="183.8" y2="492" stroke="#0834ac" stroke-width="1.4" />
<text x="187.3" y="494.1" font-size="5.9">DMSO control</text>
<text x="281.2" y="448" font-size="11" font-weight="bold">H</text>
<text x="336" y="446" >+ CD8_Apoptosis</text>
<line x1="313" y1="449" x2="313" y2="510.4" stroke="#000" stroke-width="1.3" />
<path d="M310 509.8H313M310 501.2H313M310 492.6H313M310 484H313M310 475.4H313M310 466.8H313M310 458.2H313M310 449.6H313" fill="none" stroke="#000" stroke-width="1.1" />
<text x="307.9" y="511.9" text-anchor="end">0</text>
<text x="307.9" y="503.3" text-anchor="end">2</text>
<text x="307.9" y="494.7" text-anchor="end">4</text>
<text x="307.9" y="486.1" text-anchor="end">6</text>
<text x="307.9" y="477.5" text-anchor="end">8</text>
<text x="307.9" y="468.9" text-anchor="end">10</text>
<text x="307.9" y="460.3" text-anchor="end">12</text>
<text x="307.9" y="451.7" text-anchor="end">14</text>
<text transform="translate(295.9 479.9) rotate(-90)" font-size="6.6" text-anchor="middle" textLength="51" lengthAdjust="spacingAndGlyphs">% Caspase-3 activated</text>
<line x1="312.4" y1="510" x2="400.6" y2="510" stroke="#000" stroke-width="1.3" />
<path d="M313 510V512.5M334.9 510V512.5M356.8 510V512.5M378.7 510V512.5M400.6 510V512.5" fill="none" stroke="#000" stroke-width="0.9" />
<text x="313" y="519" text-anchor="middle">0</text>
<text x="334.9" y="519" text-anchor="middle">20</text>
<text x="356.8" y="519" text-anchor="middle">40</text>
<text x="378.7" y="519" text-anchor="middle">60</text>
<text x="400.6" y="519" text-anchor="middle">80</text>
<path d="M348.04 503.21V505.21M347.44 503.21h1.2M347.44 505.21h1.2M350.23 500.83V502.83M349.63 500.83h1.2M349.63 502.83h1.2M352.42 498.07V500.07M351.82 498.07h1.2M351.82 500.07h1.2M354.61 495.18V497.18M354.01 495.18h1.2M354.01 497.18h1.2M356.8 493.41V495.41M356.2 493.41h1.2M356.2 495.41h1.2M358.99 492.49V494.49M358.39 492.49h1.2M358.39 494.49h1.2M361.18 491.35V493.35M360.58 491.35h1.2M360.58 493.35h1.2M363.37 490.1V492.1M362.77 490.1h1.2M362.77 492.1h1.2M365.56 489.07V491.07M364.96 489.07h1.2M364.96 491.07h1.2M367.75 488.15V490.15M367.15 488.15h1.2M367.15 490.15h1.2M369.94 487.38V489.38M369.34 487.38h1.2M369.34 489.38h1.2M372.13 486.93V488.93M371.53 486.93h1.2M371.53 488.93h1.2M374.32 487.09V489.09M373.72 487.09h1.2M373.72 489.09h1.2M376.51 487.6V489.6M375.91 487.6h1.2M375.91 489.6h1.2M378.7 488.34V490.34M378.1 488.34h1.2M378.1 490.34h1.2M380.89 489.18V491.18M380.29 489.18h1.2M380.29 491.18h1.2M383.08 489.88V491.88M382.48 489.88h1.2M382.48 491.88h1.2M385.27 490.21V492.21M384.67 490.21h1.2M384.67 492.21h1.2M387.46 490.31V492.31M386.86 490.31h1.2M386.86 492.31h1.2M389.65 490.34V492.34M389.05 490.34h1.2M389.05 492.34h1.2M391.84 490.31V492.31M391.24 490.31h1.2M391.24 492.31h1.2" fill="none" stroke="#0834ac" stroke-width="0.6" />
<polyline points="313,509.59 314.1,509.56 315.19,509.54 316.29,509.51 317.38,509.49 318.48,509.46 319.57,509.44 320.67,509.42 321.76,509.4 322.86,509.38 323.95,509.37 325.05,509.36 326.14,509.36 327.24,509.36 328.33,509.37 329.43,509.38 330.52,509.38 331.62,509.39 332.71,509.39 333.81,509.38 334.9,509.37 336,509.37 337.09,509.36 338.19,509.31 339.28,509.16 340.38,508.84 341.47,508.38 342.56,507.87 343.66,507.38 344.75,506.86 345.85,506.18 346.94,505.27 348.04,504.21 349.13,503.05 350.23,501.83 351.32,500.54 352.42,499.07 353.51,497.55 354.61,496.18 355.7,495.12 356.8,494.41 357.89,493.92 358.99,493.49 360.08,492.97 361.18,492.35 362.27,491.71 363.37,491.1 364.46,490.55 365.56,490.07 366.65,489.6 367.75,489.15 368.85,488.73 369.94,488.38 371.03,488.1 372.13,487.93 373.23,487.94 374.32,488.09 375.42,488.33 376.51,488.6 377.61,488.94 378.7,489.34 379.8,489.76 380.89,490.18 381.99,490.56 383.08,490.88 384.18,491.09 385.27,491.21 386.37,491.27 387.46,491.31 388.56,491.34 389.65,491.34 390.75,491.33 391.84,491.31" fill="none" stroke="#0834ac" stroke-width="1.5" stroke-linejoin="round" stroke-linecap="round" />
<path d="M341.47 508.38h0M343.66 507.38h0M345.85 506.18h0M348.04 504.21h0M350.23 501.83h0M352.42 499.07h0M354.61 496.18h0M356.8 494.41h0M358.99 493.49h0M361.18 492.35h0M363.37 491.1h0M365.56 490.07h0M367.75 489.15h0M369.94 488.38h0M372.13 487.93h0M374.32 488.09h0M376.51 488.6h0M378.7 489.34h0M380.89 490.18h0M383.08 490.88h0M385.27 491.21h0M387.46 491.31h0M389.65 491.34h0M391.84 491.31h0" stroke="#0834ac" stroke-width="1.9" stroke-linecap="round" fill="none"/>
<path d="M345.85 493.08V494.08M345.15 493.08h1.4M345.15 494.08h1.4M348.04 489.59V490.59M347.34 489.59h1.4M347.34 490.59h1.4M350.23 486.4V487.4M349.53 486.4h1.4M349.53 487.4h1.4M352.42 483.52V484.52M351.72 483.52h1.4M351.72 484.52h1.4M354.61 480.93V481.93M353.91 480.93h1.4M353.91 481.93h1.4M356.8 478.6V479.6M356.1 478.6h1.4M356.1 479.6h1.4M358.99 476.46V477.46M358.29 476.46h1.4M358.29 477.46h1.4M361.18 473.7V474.7M360.48 473.7h1.4M360.48 474.7h1.4M363.37 469.38V472.38M362.67 469.38h1.4M362.67 472.38h1.4M365.56 466.23V469.23M364.86 466.23h1.4M364.86 469.23h1.4M367.75 460.98V468.58M367.05 460.98h1.4M367.05 468.58h1.4M369.94 458.39V465.99M369.24 458.39h1.4M369.24 465.99h1.4M372.13 456.13V463.73M371.43 456.13h1.4M371.43 463.73h1.4M374.32 454.61V462.21M373.62 454.61h1.4M373.62 462.21h1.4M376.51 454.04V461.64M375.81 454.04h1.4M375.81 461.64h1.4M378.7 453.97V461.57M378 453.97h1.4M378 461.57h1.4M380.89 454.4V462M380.19 454.4h1.4M380.19 462h1.4M383.08 454.83V462.43M382.38 454.83h1.4M382.38 462.43h1.4M385.27 454.48V462.08M384.57 454.48h1.4M384.57 462.08h1.4M387.46 453.97V461.57M386.76 453.97h1.4M386.76 461.57h1.4M389.65 453.74V461.34M388.95 453.74h1.4M388.95 461.34h1.4M391.84 453.58V461.18M391.14 453.58h1.4M391.14 461.18h1.4" fill="none" stroke="#cc0418" stroke-width="0.7" />
<path d="M338.58 503.6L339.98 505.4M338.58 505.4L339.98 503.6M340.77 500.47L342.17 502.27M340.77 502.27L342.17 500.47M342.96 496.69L344.36 498.49M342.96 498.49L344.36 496.69M345.15 492.68L346.55 494.48M345.15 494.48L346.55 492.68M347.34 489.19L348.74 490.99M347.34 490.99L348.74 489.19M349.53 486L350.93 487.8M349.53 487.8L350.93 486M351.72 483.12L353.12 484.92M351.72 484.92L353.12 483.12M353.91 480.53L355.31 482.33M353.91 482.33L355.31 480.53M356.1 478.2L357.5 480M356.1 480L357.5 478.2M358.29 476.06L359.69 477.86M358.29 477.86L359.69 476.06M360.48 473.3L361.88 475.1M360.48 475.1L361.88 473.3M362.67 469.98L364.07 471.78M362.67 471.78L364.07 469.98M364.86 466.83L366.26 468.63M364.86 468.63L366.26 466.83M367.05 463.88L368.45 465.68M367.05 465.68L368.45 463.88M369.24 461.29L370.64 463.09M369.24 463.09L370.64 461.29M371.43 459.03L372.83 460.83M371.43 460.83L372.83 459.03M373.62 457.51L375.02 459.31M373.62 459.31L375.02 457.51M375.81 456.94L377.21 458.74M375.81 458.74L377.21 456.94M378 456.87L379.4 458.67M378 458.67L379.4 456.87M380.19 457.3L381.59 459.1M380.19 459.1L381.59 457.3M382.38 457.73L383.78 459.53M382.38 459.53L383.78 457.73M384.57 457.38L385.97 459.18M384.57 459.18L385.97 457.38M386.76 456.87L388.16 458.67M386.76 458.67L388.16 456.87M388.95 456.64L390.35 458.44M388.95 458.44L390.35 456.64M391.14 456.48L392.54 458.28M391.14 458.28L392.54 456.48" fill="none" stroke="#cc0418" stroke-width="0.6" />
<polyline points="313,509.37 314.1,509.35 315.19,509.34 316.29,509.32 317.38,509.31 318.48,509.3 319.57,509.28 320.67,509.26 321.76,509.23 322.86,509.2 323.95,509.16 325.05,509.11 326.14,509.07 327.24,509.02 328.33,508.97 329.43,508.89 330.52,508.8 331.62,508.67 332.71,508.51 333.81,508.34 334.9,508.09 336,507.66 337.09,506.91 338.19,505.83 339.28,504.5 340.38,502.99 341.47,501.37 342.56,499.58 343.66,497.59 344.75,495.54 345.85,493.58 346.94,491.79 348.04,490.09 349.13,488.46 350.23,486.9 351.32,485.42 352.42,484.02 353.51,482.7 354.61,481.43 355.7,480.2 356.8,479.1 357.89,478.06 358.99,476.96 360.08,475.69 361.18,474.2 362.27,472.56 363.37,470.88 364.46,469.26 365.56,467.73 366.65,466.23 367.75,464.78 368.85,463.43 369.94,462.19 371.03,461.01 372.13,459.93 373.23,459.04 374.32,458.41 375.42,458.03 376.51,457.84 377.61,457.78 378.7,457.77 379.8,457.9 380.89,458.2 381.99,458.5 383.08,458.63 384.18,458.52 385.27,458.28 386.37,457.99 387.46,457.77 388.56,457.64 389.65,457.54 390.75,457.46 391.84,457.38" fill="none" stroke="#cc0418" stroke-width="1.6" stroke-linejoin="round" stroke-linecap="round" />
<text x="356.6" y="529.4" font-size="6.9" text-anchor="middle" textLength="28.5" lengthAdjust="spacingAndGlyphs">Time (hours)</text>
<line x1="401" y1="450.6" x2="409" y2="450.6" stroke="#cc0418" stroke-width="1.4" />
<text x="412.6" y="453" font-size="5.9">1.1 µM Tolinapant</text>
<line x1="401" y1="458.4" x2="409" y2="458.4" stroke="#0834ac" stroke-width="1.4" />
<text x="412.6" y="460.8" font-size="5.9">DMSO control</text>
<text x="11.2" y="556.1" font-size="11" font-weight="bold">I</text>
<text x="79.6" y="554.5" text-anchor="middle">Unstimulated</text>
<line x1="42.5" y1="561.6" x2="42.5" y2="638.85" stroke="#000" stroke-width="1.3" />
<path d="M39.5 638.25H42.5M39.5 623H42.5M39.5 607.75H42.5M39.5 592.5H42.5M39.5 577.25H42.5M39.5 562H42.5" fill="none" stroke="#000" stroke-width="1.1" />
<text x="37.6" y="640.35" text-anchor="end">20</text>
<text x="37.6" y="625.1" text-anchor="end">40</text>
<text x="37.6" y="609.85" text-anchor="end">60</text>
<text x="37.6" y="594.6" text-anchor="end">80</text>
<text x="37.6" y="579.35" text-anchor="end">100</text>
<text x="37.6" y="564.1" text-anchor="end">120</text>
<line x1="41.9" y1="638.25" x2="116.9" y2="638.25" stroke="#000" stroke-width="1.3" />
<path d="M42.5 638.25V640.75M57.3 638.25V640.75M72.1 638.25V640.75M86.9 638.25V640.75M101.7 638.25V640.75M116.5 638.25V640.75" fill="none" stroke="#000" stroke-width="0.9" />
<text x="41.5" y="647.5" text-anchor="middle">−3</text>
<text x="56.3" y="647.5" text-anchor="middle">−2</text>
<text x="71.1" y="647.5" text-anchor="middle">−1</text>
<text x="86.9" y="647.5" text-anchor="middle">0</text>
<text x="101.7" y="647.5" text-anchor="middle">1</text>
<text x="116.5" y="647.5" text-anchor="middle">2</text>
<text x="48.9" y="656.4" >Log<tspan font-size="3.8" dy="1.2">10</tspan><tspan dy="-1.2"> [Tolinapant] (µM)</tspan></text>
<text transform="translate(15.2 600.1) rotate(-90)" font-size="6.6" text-anchor="middle" textLength="45" lengthAdjust="spacingAndGlyphs">Relative cell number</text>
<text transform="translate(22.9 599.5) rotate(-90)" font-size="6.6" text-anchor="middle" textLength="74.5" lengthAdjust="spacingAndGlyphs">(Luminescence, % DMSO control)</text>
<path d="M57.3 579.92V576.11M56.3 579.92h2M56.3 576.11h2M72.1 579.16V575.34M71.1 579.16h2M71.1 575.34h2M86.9 579V575.95M85.9 579h2M85.9 575.95h2M94.6 579.38V576.34M93.6 579.38h2M93.6 576.34h2M101.7 584.88V580.3M100.7 584.88h2M100.7 580.3h2" fill="none" stroke="#cc0418" stroke-width="0.8" />
<path d="M57.3 575.57V571.76M56.3 575.57h2M56.3 571.76h2M72.1 575.34V570.01M71.1 575.34h2M71.1 570.01h2M86.9 577.94V571.07M85.9 577.94h2M85.9 571.07h2M94.6 580.07V573.97M93.6 580.07h2M93.6 573.97h2M101.7 586.78V574.58M100.7 586.78h2M100.7 574.58h2" fill="none" stroke="#0834ac" stroke-width="0.8" />
<polyline points="57.3,573.67 72.1,572.67 86.9,574.5 94.6,577.02 101.7,580.68" fill="none" stroke="#0834ac" stroke-width="1.6" stroke-linejoin="round" stroke-linecap="round" />
<rect x="56.4" y="572.77" width="1.8" height="1.8" fill="#0834ac"/>
<rect x="71.2" y="571.77" width="1.8" height="1.8" fill="#0834ac"/>
<rect x="86" y="573.61" width="1.8" height="1.8" fill="#0834ac"/>
<rect x="93.7" y="576.12" width="1.8" height="1.8" fill="#0834ac"/>
<rect x="100.8" y="579.78" width="1.8" height="1.8" fill="#0834ac"/>
<polyline points="57.3,578.01 72.1,577.25 86.9,577.48 94.6,577.86 101.7,582.59" fill="none" stroke="#cc0418" stroke-width="1.6" stroke-linejoin="round" stroke-linecap="round" />
<path d="M57.3 578.01h0M72.1 577.25h0M86.9 577.48h0M94.6 577.86h0M101.7 582.59h0" stroke="#cc0418" stroke-width="2.4" stroke-linecap="round" fill="none"/>
<line x1="47.1" y1="626.4" x2="51.5" y2="626.4" stroke="#cc0418" stroke-width="1.5" />
<circle cx="49.3" cy="626.4" r="1.1" fill="#cc0418"/>
<text x="53.7" y="628.5" >HH only</text>
<line x1="47.1" y1="632.9" x2="51.5" y2="632.9" stroke="#0834ac" stroke-width="1.5" />
<rect x="48.2" y="631.8" width="2.2" height="2.2" fill="#0834ac"/>
<text x="53.7" y="635" >Co-culture</text>
<text x="203" y="553" text-anchor="middle">αCD3 stimulated</text>
<line x1="165.5" y1="558.5" x2="165.5" y2="638.85" stroke="#000" stroke-width="1.3" />
<path d="M162.5 638.25H165.5M162.5 622.38H165.5M162.5 606.51H165.5M162.5 590.64H165.5M162.5 574.77H165.5M162.5 558.9H165.5" fill="none" stroke="#000" stroke-width="1.1" />
<text x="160.6" y="640.35" text-anchor="end">20</text>
<text x="160.6" y="624.48" text-anchor="end">40</text>
<text x="160.6" y="608.61" text-anchor="end">60</text>
<text x="160.6" y="592.74" text-anchor="end">80</text>
<text x="160.6" y="576.87" text-anchor="end">100</text>
<text x="160.6" y="561" text-anchor="end">120</text>
<line x1="164.9" y1="638.25" x2="241.9" y2="638.25" stroke="#000" stroke-width="1.3" />
<path d="M165.5 638.25V640.75M180.7 638.25V640.75M195.9 638.25V640.75M211.1 638.25V640.75M226.3 638.25V640.75M241.5 638.25V640.75" fill="none" stroke="#000" stroke-width="0.9" />
<text x="164.5" y="647.5" text-anchor="middle">−3</text>
<text x="179.7" y="647.5" text-anchor="middle">−2</text>
<text x="194.9" y="647.5" text-anchor="middle">−1</text>
<text x="211.1" y="647.5" text-anchor="middle">0</text>
<text x="226.3" y="647.5" text-anchor="middle">1</text>
<text x="241.5" y="647.5" text-anchor="middle">2</text>
<text x="171.8" y="656.4" >Log<tspan font-size="3.8" dy="1.2">10</tspan><tspan dy="-1.2"> [Tolinapant] (µM)</tspan></text>
<text transform="translate(137.3 600.1) rotate(-90)" font-size="6.6" text-anchor="middle" textLength="45" lengthAdjust="spacingAndGlyphs">Relative cell number</text>
<text transform="translate(146 599.5) rotate(-90)" font-size="6.6" text-anchor="middle" textLength="74.5" lengthAdjust="spacingAndGlyphs">(Luminescence, % DMSO control)</text>
<path d="M180.7 578.1V576.83M179.7 578.1h2M179.7 576.83h2M195.9 577.86V575.96M194.9 577.86h2M194.9 575.96h2M211.1 581.91V580.64M210.1 581.91h2M210.1 580.64h2M219 582.47V580.09M218 582.47h2M218 580.09h2M226.3 584.29V582.7M225.3 584.29h2M225.3 582.7h2" fill="none" stroke="#cc0418" stroke-width="0.8" />
<path d="M180.7 596.83V584.45M179.7 596.83h2M179.7 584.45h2M195.9 600V594.77M194.9 600h2M194.9 594.77h2M211.1 602.54V598.1M210.1 602.54h2M210.1 598.1h2M219 608.1V604.45M218 608.1h2M218 604.45h2M226.3 620.08V611.99M225.3 620.08h2M225.3 611.99h2" fill="none" stroke="#0834ac" stroke-width="0.8" />
<polyline points="180.7,590.64 226.3,612.46" fill="none" stroke="#0834ac" stroke-width="1.6" stroke-linejoin="round" stroke-linecap="round" />
<rect x="179.8" y="589.74" width="1.8" height="1.8" fill="#0834ac"/>
<rect x="195" y="596.48" width="1.8" height="1.8" fill="#0834ac"/>
<rect x="210.2" y="599.42" width="1.8" height="1.8" fill="#0834ac"/>
<rect x="218.1" y="605.37" width="1.8" height="1.8" fill="#0834ac"/>
<rect x="225.4" y="615.13" width="1.8" height="1.8" fill="#0834ac"/>
<polyline points="180.7,577.47 195.9,576.91 211.1,581.28 219,581.28 226.3,583.5" fill="none" stroke="#cc0418" stroke-width="1.6" stroke-linejoin="round" stroke-linecap="round" />
<path d="M180.7 577.47h0M195.9 576.91h0M211.1 581.28h0M219 581.28h0M226.3 583.5h0" stroke="#cc0418" stroke-width="2.4" stroke-linecap="round" fill="none"/>
<line x1="169.1" y1="625.4" x2="173.5" y2="625.4" stroke="#cc0418" stroke-width="1.5" />
<circle cx="171.3" cy="625.4" r="1.1" fill="#cc0418"/>
<text x="175.7" y="627.5" >HH only</text>
<line x1="169.1" y1="631.9" x2="173.5" y2="631.9" stroke="#0834ac" stroke-width="1.5" />
<rect x="170.2" y="630.8" width="2.2" height="2.2" fill="#0834ac"/>
<text x="175.7" y="634" >Co-culture</text>
<text x="273.6" y="567.3" font-size="10.5" font-weight="bold" textLength="4.6" lengthAdjust="spacingAndGlyphs">J</text>
<text x="342.5" y="566.3" text-anchor="middle">IL-2</text>
<line x1="305.6" y1="572" x2="305.6" y2="650.4" stroke="#000" stroke-width="1.3" />
<path d="M302.1 649.8H305.6M302.1 624H305.6M302.1 598.2H305.6M302.1 572.4H305.6" fill="none" stroke="#000" stroke-width="1.1" />
<text x="299.8" y="651.9" text-anchor="end">0</text>
<text x="299.8" y="626.1" text-anchor="end">500</text>
<text x="299.8" y="600.3" text-anchor="end">1000</text>
<text x="299.8" y="574.5" text-anchor="end">1500</text>
<line x1="305" y1="649.8" x2="384.8" y2="649.8" stroke="#000" stroke-width="1.3" />
<path d="M325.2 649.8V652.3M364.7 649.8V652.3" fill="none" stroke="#000" stroke-width="0.9" />
<text x="325.2" y="659" text-anchor="middle">DMSO</text>
<text x="364.7" y="659" text-anchor="middle">1µM Tolinapant</text>
<text x="312.5" y="580.5" >* p = 0.0167</text>
<text transform="translate(278.7 611.1) rotate(-90)" font-size="6.6" text-anchor="middle" textLength="41.5" lengthAdjust="spacingAndGlyphs">IL-2 conc. (pg/ml)</text>
<line x1="325.2" y1="623.74" x2="364.7" y2="598.2" stroke="#cc0418" stroke-width="1.6" />
<path d="M325.2 623.74h0M364.7 598.2h0" stroke="#cc0418" stroke-width="2.8" stroke-linecap="round" fill="none"/>
<line x1="325.2" y1="621.42" x2="364.7" y2="606.46" stroke="#0834ac" stroke-width="1.6" />
<path d="M325.2 621.42h0M364.7 606.46h0" stroke="#0834ac" stroke-width="2.8" stroke-linecap="round" fill="none"/>
<line x1="325.2" y1="608.52" x2="364.7" y2="577.04" stroke="#42fc0a" stroke-width="1.6" />
<path d="M325.2 608.52h0M364.7 577.04h0" stroke="#42fc0a" stroke-width="2.8" stroke-linecap="round" fill="none"/>
<line x1="354" y1="629.7" x2="361" y2="629.7" stroke="#cc0418" stroke-width="1.5" />
<circle cx="357.5" cy="629.7" r="1.3" fill="#cc0418"/>
<text x="364" y="631.7" font-size="5.8">Donor 1</text>
<line x1="354" y1="636.45" x2="361" y2="636.45" stroke="#0834ac" stroke-width="1.5" />
<circle cx="357.5" cy="636.45" r="1.3" fill="#0834ac"/>
<text x="364" y="638.45" font-size="5.8">Donor 2</text>
<line x1="354" y1="643.2" x2="361" y2="643.2" stroke="#42fc0a" stroke-width="1.5" />
<circle cx="357.5" cy="643.2" r="1.3" fill="#42fc0a"/>
<text x="364" y="645.2" font-size="5.8">Donor 3</text>
<text x="466.25" y="566.3" text-anchor="middle">TNFα</text>
<line x1="429.9" y1="572" x2="429.9" y2="650.4" stroke="#000" stroke-width="1.3" />
<path d="M426.4 649.8H429.9M426.4 624H429.9M426.4 598.2H429.9M426.4 572.4H429.9" fill="none" stroke="#000" stroke-width="1.1" />
<text x="424.1" y="651.9" text-anchor="end">0</text>
<text x="424.1" y="626.1" text-anchor="end">500</text>
<text x="424.1" y="600.3" text-anchor="end">1000</text>
<text x="424.1" y="574.5" text-anchor="end">1500</text>
<line x1="429.3" y1="649.8" x2="509.5" y2="649.8" stroke="#000" stroke-width="1.3" />
<path d="M449.7 649.8V652.3M489.5 649.8V652.3" fill="none" stroke="#000" stroke-width="0.9" />
<text x="449.7" y="659" text-anchor="middle">DMSO</text>
<text x="489.5" y="659" text-anchor="middle">1µM Tolinapant</text>
<text x="438.3" y="581.8" >* p = 0.0391</text>
<text transform="translate(403.7 611.1) rotate(-90)" font-size="6.6" text-anchor="middle" textLength="45.5" lengthAdjust="spacingAndGlyphs">TNFα conc. (pg/ml)</text>
<line x1="449.7" y1="605.94" x2="489.5" y2="588.4" stroke="#cc0418" stroke-width="1.6" />
<path d="M449.7 605.94h0M489.5 588.4h0" stroke="#cc0418" stroke-width="2.8" stroke-linecap="round" fill="none"/>
<line x1="449.7" y1="603.1" x2="489.5" y2="584.27" stroke="#0834ac" stroke-width="1.6" />
<path d="M449.7 603.1h0M489.5 584.27h0" stroke="#0834ac" stroke-width="2.8" stroke-linecap="round" fill="none"/>
<line x1="449.7" y1="614.71" x2="489.5" y2="586.33" stroke="#42fc0a" stroke-width="1.6" />
<path d="M449.7 614.71h0M489.5 586.33h0" stroke="#42fc0a" stroke-width="2.8" stroke-linecap="round" fill="none"/>
<line x1="478" y1="629.7" x2="485" y2="629.7" stroke="#cc0418" stroke-width="1.5" />
<circle cx="481.5" cy="629.7" r="1.3" fill="#cc0418"/>
<text x="488" y="631.7" font-size="5.8">Donor 1</text>
<line x1="478" y1="636.45" x2="485" y2="636.45" stroke="#0834ac" stroke-width="1.5" />
<circle cx="481.5" cy="636.45" r="1.3" fill="#0834ac"/>
<text x="488" y="638.45" font-size="5.8">Donor 2</text>
<line x1="478" y1="643.2" x2="485" y2="643.2" stroke="#42fc0a" stroke-width="1.5" />
<circle cx="481.5" cy="643.2" r="1.3" fill="#42fc0a"/>
<text x="488" y="645.2" font-size="5.8">Donor 3</text>
<rect x="0.5" y="0.5" width="519" height="667" fill="none" stroke="#000" stroke-width="1"/>
<rect x="1.5" y="1.5" width="517" height="665" fill="none" stroke="#000" stroke-opacity="0.3" stroke-width="1"/>
</svg>
</body></html>
